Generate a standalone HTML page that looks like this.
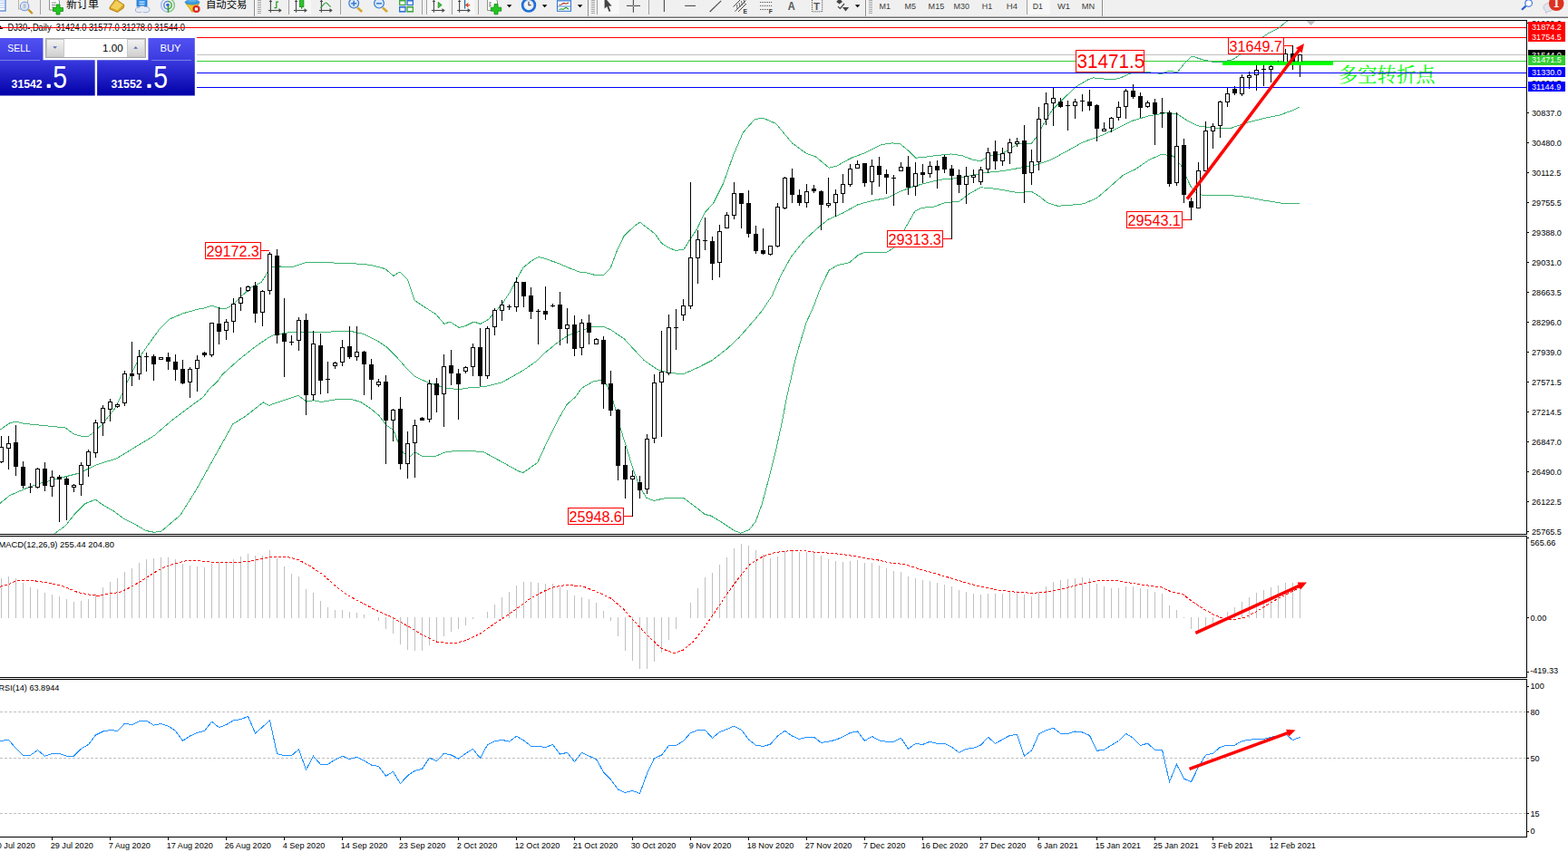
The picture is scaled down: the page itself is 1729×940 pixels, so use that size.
<!DOCTYPE html>
<html><head><meta charset="utf-8"><title>DJ30 Daily</title>
<style>html,body{margin:0;padding:0;background:#fff;overflow:hidden}svg{display:block}text{font-family:"Liberation Sans",sans-serif}</style>
</head><body>
<svg width="1729" height="940" viewBox="0 0 1729 940" font-family="'Liberation Sans', sans-serif">
<rect x="0" y="0" width="1729" height="940" fill="#fff"/>
<g shape-rendering="crispEdges">
</g>
<text x="8.5" y="34" font-size="10.1" fill="#000" textLength="195.5" lengthAdjust="spacingAndGlyphs">DJ30-,Daily&#160; 31424.0 31577.0 31278.0 31544.0</text>
<polygon points="0,28 3.5,32 0,32" fill="#000"/>
<g shape-rendering="crispEdges">
<text transform="translate(1689,28.9) scale(0.94,1)" font-size="9.7" fill="#000" text-anchor="start" font-weight="normal">31929.0</text>
<text transform="translate(1689,64.2) scale(0.94,1)" font-size="9.7" fill="#000" text-anchor="start" font-weight="normal">31544.0</text>
<text transform="translate(1689,94.9) scale(0.94,1)" font-size="9.7" fill="#000" text-anchor="start" font-weight="normal">31204.5</text>
<rect x="0" y="30" width="1683" height="1" fill="#ff0000"/>
<rect x="0" y="41" width="1683" height="1" fill="#ff0000"/>
<rect x="0" y="60" width="1683" height="1" fill="#c0c0c0"/>
<rect x="0" y="67" width="1683" height="1" fill="#32cd32"/>
<polyline points="0.0,474.2 10.8,466.7 17.4,465.2 27.0,467.4 72.3,472.0 81.4,478.8 90.4,481.5 97.6,481.1 103.0,477.5 113.4,467.4 126.6,450.7 135.6,432.7 139.8,422.7 154.2,393.8 161.5,383.0 176.0,363.0 186.8,352.2 201.3,345.9 217.5,341.4 226.6,339.6 233.5,337.2 242.9,340.1 250.1,340.1 257.3,336.0 268.2,325.1 277.2,317.0 288.1,311.5 293.5,303.4 297.1,294.4 308.0,294.0 323.5,294.1 336.2,289.9 354.2,289.0 372.3,290.3 390.4,290.8 408.5,292.3 424.8,296.6 433.8,304.4 441.0,299.9 449.2,308.0 457.3,331.5 462.7,335.2 480.8,346.9 489.9,357.4 496.2,355.0 506.1,361.4 513.4,359.6 522.4,355.0 529.7,357.4 538.7,352.3 553.2,336.1 562.2,322.5 576.7,295.4 585.7,288.1 593.9,283.3 600.0,285.1 614.4,290.0 627.0,295.4 640.0,300.4 645.6,300.6 656.7,303.6 665.5,303.6 673.3,295.5 680.7,275.6 688.1,260.3 699.3,249.6 705.7,245.2 716.9,253.8 722.4,258.4 729.8,268.6 737.2,273.2 744.6,276.3 753.9,275.4 761.3,263.5 768.7,252.4 777.0,234.8 786.8,224.0 797.6,202.3 808.5,171.6 819.3,146.3 832.0,131.8 841.0,130.0 855.5,136.3 873.6,158.0 889.9,169.8 898.9,172.5 914.3,185.2 922.4,183.3 938.7,174.3 953.2,168.9 971.2,159.8 983.5,157.9 992.5,158.8 1001.6,166.1 1009.7,174.2 1019.7,173.3 1032.3,171.5 1048.6,170.0 1061.3,171.8 1072.1,176.0 1081.2,177.8 1090.2,172.4 1104.7,169.7 1113.7,164.2 1122.7,158.5 1137.2,158.5 1142.6,151.6 1151.7,135.3 1160.7,120.8 1172.5,108.9 1187.0,95.4 1200.0,87.7 1205.6,85.9 1213.9,86.8 1227.8,87.7 1234.3,86.4 1241.7,83.1 1248.1,80.5 1262.0,79.0 1278.7,81.3 1281.5,81.3 1288.9,78.0 1295.4,79.4 1298.1,79.9 1307.4,68.3 1313.9,62.0 1316.7,62.7 1325.0,65.5 1337.0,68.3 1348.1,68.1 1359.5,65.7 1367.4,60.3 1380.0,50.0 1392.9,40.6 1398.8,36.7 1408.7,31.8 1413.6,27.9 1419.5,22.9" fill="none" stroke="#3cb371" stroke-width="1"/>
<polyline points="0.0,555.3 10.8,546.6 25.3,540.3 41.6,533.9 72.3,525.8 86.8,522.2 106.7,512.6 128.4,505.9 144.7,496.0 170.0,480.6 189.9,463.4 208.0,449.8 224.2,438.1 230.2,430.0 240.5,420.0 244.7,413.7 262.7,397.4 280.8,383.0 295.3,373.0 302.5,369.4 317.0,367.0 336.2,366.4 354.2,366.8 372.3,365.5 385.0,365.0 401.3,368.6 415.7,375.8 426.6,383.1 437.4,393.9 450.1,408.4 457.3,415.3 471.8,422.0 480.8,424.7 489.9,427.9 506.1,429.7 517.0,427.9 535.1,426.5 553.2,422.0 571.2,412.0 580.0,406.6 592.7,397.6 601.7,388.6 616.2,376.8 627.0,369.6 639.7,365.0 652.3,360.9 665.0,360.2 674.0,364.1 688.5,374.1 699.3,385.8 710.2,397.6 724.7,407.5 737.3,411.5 753.6,412.6 769.9,405.4 784.3,398.1 800.6,385.8 815.1,372.3 833.2,351.5 840.0,343.3 851.1,326.7 860.7,304.6 872.5,283.1 888.1,263.8 904.3,249.3 913.4,242.1 929.7,234.9 945.9,225.8 962.2,221.3 978.1,218.5 992.5,211.3 1007.0,205.8 1023.3,201.3 1037.8,198.1 1054.0,196.8 1068.5,194.1 1086.6,190.5 1104.7,188.7 1126.4,185.0 1140.8,182.3 1158.1,176.7 1176.2,166.8 1194.2,156.9 1212.3,150.5 1230.4,142.4 1248.5,133.3 1266.6,127.9 1284.7,124.8 1297.3,125.2 1308.2,132.4 1320.8,138.8 1338.9,141.5 1357.0,141.5 1375.1,135.2 1393.2,130.6 1411.2,127.0 1425.7,121.6 1432.9,118.0" fill="none" stroke="#3cb371" stroke-width="1"/>
<polyline points="59.7,589.0 72.3,580.0 81.4,568.3 94.0,555.6 105.4,551.1 113.9,557.4 126.6,564.7 137.4,572.8 150.0,579.1 160.9,585.5 170.0,587.3 178.1,586.0 198.9,568.3 217.0,539.3 235.1,506.8 256.8,467.9 271.2,458.9 290.2,443.9 296.6,447.5 300.0,445.9 328.9,436.3 338.0,443.1 345.2,441.7 354.2,443.5 372.3,440.4 386.8,440.3 397.6,443.5 408.5,450.7 417.5,458.0 426.6,469.7 433.8,474.2 439.2,488.7 444.7,499.6 451.9,504.1 457.3,498.7 465.5,503.2 480.8,503.2 489.9,499.2 502.5,497.4 517.0,497.4 533.3,498.7 553.2,509.5 571.2,519.5 576.7,521.6 580.0,519.5 592.7,510.4 603.5,486.9 616.2,461.6 625.2,446.2 634.2,438.3 641.5,428.2 654.1,420.9 665.0,419.0 668.6,423.6 675.8,441.0 683.1,468.8 690.3,492.3 697.5,515.8 704.8,535.7 712.9,549.3 721.0,552.4 735.5,549.3 753.6,549.3 768.1,560.1 777.1,567.4 784.3,569.2 797.0,577.0 809.7,585.5 816.9,588.2 825.9,584.6 833.2,575.5 840.4,555.6 847.6,528.5 854.9,499.6 862.1,467.0 867.5,438.3 872.9,414.8 876.2,400.0 881.5,380.7 889.1,355.8 896.7,339.2 905.0,317.0 914.0,298.4 923.0,292.8 936.8,289.6 946.5,281.3 952.7,278.6 977.6,278.3 985.9,273.5 998.0,252.0 1008.8,233.0 1016.1,229.3 1028.7,228.4 1041.4,223.9 1057.6,222.1 1068.5,214.0 1081.2,206.7 1097.4,208.2 1110.1,210.4 1122.7,212.7 1137.2,211.3 1146.3,216.7 1155.3,223.9 1166.1,227.2 1177.0,226.6 1195.1,224.8 1209.5,218.5 1222.2,207.6 1238.5,193.2 1252.1,186.7 1266.6,176.7 1281.0,170.1 1293.7,172.2 1302.7,183.1 1308.2,195.7 1313.6,206.6 1319.0,212.9 1326.3,215.3 1357.0,215.6 1375.1,217.4 1393.2,221.0 1416.7,224.7 1432.9,224.3" fill="none" stroke="#3cb371" stroke-width="1"/>
<rect x="1" y="481" width="1" height="30" fill="#000"/>
<rect x="-1" y="493" width="5" height="17" fill="#000"/>
<rect x="0" y="494" width="3" height="15" fill="#fff"/>
<rect x="9" y="481" width="1" height="37" fill="#000"/>
<rect x="7" y="489" width="5" height="6" fill="#000"/>
<rect x="8" y="490" width="3" height="4" fill="#fff"/>
<rect x="17" y="469" width="1" height="56" fill="#000"/>
<rect x="15" y="488" width="5" height="27" fill="#000"/>
<rect x="25" y="509" width="1" height="30" fill="#000"/>
<rect x="23" y="515" width="5" height="21" fill="#000"/>
<rect x="33" y="533" width="1" height="11" fill="#000"/>
<rect x="31" y="537" width="5" height="1" fill="#000"/>
<rect x="41" y="516" width="1" height="23" fill="#000"/>
<rect x="39" y="517" width="5" height="21" fill="#000"/>
<rect x="40" y="518" width="3" height="19" fill="#fff"/>
<rect x="49" y="510" width="1" height="32" fill="#000"/>
<rect x="47" y="517" width="5" height="19" fill="#000"/>
<rect x="57" y="519" width="1" height="29" fill="#000"/>
<rect x="55" y="526" width="5" height="11" fill="#000"/>
<rect x="56" y="527" width="3" height="9" fill="#fff"/>
<rect x="65" y="524" width="1" height="52" fill="#000"/>
<rect x="63" y="526" width="5" height="3" fill="#000"/>
<rect x="73" y="526" width="1" height="48" fill="#000"/>
<rect x="71" y="528" width="5" height="7" fill="#000"/>
<rect x="81" y="534" width="1" height="9" fill="#000"/>
<rect x="79" y="535" width="5" height="3" fill="#000"/>
<rect x="80" y="536" width="3" height="1" fill="#fff"/>
<rect x="89" y="510" width="1" height="37" fill="#000"/>
<rect x="87" y="513" width="5" height="22" fill="#000"/>
<rect x="88" y="514" width="3" height="20" fill="#fff"/>
<rect x="97" y="496" width="1" height="30" fill="#000"/>
<rect x="95" y="498" width="5" height="16" fill="#000"/>
<rect x="96" y="499" width="3" height="14" fill="#fff"/>
<rect x="105" y="463" width="1" height="42" fill="#000"/>
<rect x="103" y="466" width="5" height="34" fill="#000"/>
<rect x="104" y="467" width="3" height="32" fill="#fff"/>
<rect x="113" y="447" width="1" height="34" fill="#000"/>
<rect x="111" y="450" width="5" height="17" fill="#000"/>
<rect x="112" y="451" width="3" height="15" fill="#fff"/>
<rect x="121" y="440" width="1" height="25" fill="#000"/>
<rect x="119" y="443" width="5" height="9" fill="#000"/>
<rect x="120" y="444" width="3" height="7" fill="#fff"/>
<rect x="129" y="445" width="1" height="5" fill="#000"/>
<rect x="127" y="446" width="5" height="3" fill="#000"/>
<rect x="128" y="447" width="3" height="1" fill="#fff"/>
<rect x="137" y="409" width="1" height="39" fill="#000"/>
<rect x="135" y="412" width="5" height="33" fill="#000"/>
<rect x="136" y="413" width="3" height="31" fill="#fff"/>
<rect x="145" y="377" width="1" height="49" fill="#000"/>
<rect x="143" y="412" width="5" height="3" fill="#000"/>
<rect x="153" y="386" width="1" height="33" fill="#000"/>
<rect x="151" y="393" width="5" height="20" fill="#000"/>
<rect x="152" y="394" width="3" height="18" fill="#fff"/>
<rect x="161" y="389" width="1" height="21" fill="#000"/>
<rect x="159" y="393" width="5" height="1" fill="#000"/>
<rect x="169" y="391" width="1" height="29" fill="#000"/>
<rect x="167" y="393" width="5" height="9" fill="#000"/>
<rect x="177" y="394" width="1" height="3" fill="#000"/>
<rect x="175" y="394" width="5" height="3" fill="#000"/>
<rect x="176" y="395" width="3" height="1" fill="#fff"/>
<rect x="185" y="389" width="1" height="19" fill="#000"/>
<rect x="183" y="394" width="5" height="5" fill="#000"/>
<rect x="193" y="391" width="1" height="29" fill="#000"/>
<rect x="191" y="399" width="5" height="9" fill="#000"/>
<rect x="201" y="397" width="1" height="27" fill="#000"/>
<rect x="199" y="407" width="5" height="16" fill="#000"/>
<rect x="209" y="405" width="1" height="34" fill="#000"/>
<rect x="207" y="407" width="5" height="15" fill="#000"/>
<rect x="208" y="408" width="3" height="13" fill="#fff"/>
<rect x="217" y="392" width="1" height="40" fill="#000"/>
<rect x="215" y="397" width="5" height="10" fill="#000"/>
<rect x="216" y="398" width="3" height="8" fill="#fff"/>
<rect x="225" y="388" width="1" height="6" fill="#000"/>
<rect x="223" y="389" width="5" height="3" fill="#000"/>
<rect x="233" y="356" width="1" height="38" fill="#000"/>
<rect x="231" y="356" width="5" height="36" fill="#000"/>
<rect x="232" y="357" width="3" height="34" fill="#fff"/>
<rect x="241" y="339" width="1" height="41" fill="#000"/>
<rect x="239" y="357" width="5" height="9" fill="#000"/>
<rect x="249" y="352" width="1" height="23" fill="#000"/>
<rect x="247" y="355" width="5" height="10" fill="#000"/>
<rect x="248" y="356" width="3" height="8" fill="#fff"/>
<rect x="257" y="329" width="1" height="38" fill="#000"/>
<rect x="255" y="335" width="5" height="20" fill="#000"/>
<rect x="256" y="336" width="3" height="18" fill="#fff"/>
<rect x="265" y="317" width="1" height="26" fill="#000"/>
<rect x="263" y="328" width="5" height="7" fill="#000"/>
<rect x="264" y="329" width="3" height="5" fill="#fff"/>
<rect x="273" y="315" width="1" height="7" fill="#000"/>
<rect x="271" y="316" width="5" height="5" fill="#000"/>
<rect x="272" y="317" width="3" height="3" fill="#fff"/>
<rect x="281" y="311" width="1" height="45" fill="#000"/>
<rect x="279" y="315" width="5" height="31" fill="#000"/>
<rect x="289" y="320" width="1" height="40" fill="#000"/>
<rect x="287" y="321" width="5" height="24" fill="#000"/>
<rect x="288" y="322" width="3" height="22" fill="#fff"/>
<rect x="297" y="278" width="1" height="47" fill="#000"/>
<rect x="295" y="280" width="5" height="41" fill="#000"/>
<rect x="296" y="281" width="3" height="39" fill="#fff"/>
<rect x="305" y="275" width="1" height="104" fill="#000"/>
<rect x="303" y="282" width="5" height="88" fill="#000"/>
<rect x="313" y="329" width="1" height="87" fill="#000"/>
<rect x="311" y="368" width="5" height="9" fill="#000"/>
<rect x="321" y="370" width="1" height="11" fill="#000"/>
<rect x="319" y="377" width="5" height="1" fill="#000"/>
<rect x="329" y="350" width="1" height="37" fill="#000"/>
<rect x="327" y="353" width="5" height="23" fill="#000"/>
<rect x="328" y="354" width="3" height="21" fill="#fff"/>
<rect x="337" y="346" width="1" height="112" fill="#000"/>
<rect x="335" y="353" width="5" height="83" fill="#000"/>
<rect x="345" y="365" width="1" height="77" fill="#000"/>
<rect x="343" y="379" width="5" height="57" fill="#000"/>
<rect x="344" y="380" width="3" height="55" fill="#fff"/>
<rect x="353" y="368" width="1" height="67" fill="#000"/>
<rect x="351" y="381" width="5" height="39" fill="#000"/>
<rect x="361" y="399" width="1" height="35" fill="#000"/>
<rect x="359" y="418" width="5" height="1" fill="#000"/>
<rect x="369" y="399" width="1" height="8" fill="#000"/>
<rect x="367" y="400" width="5" height="4" fill="#000"/>
<rect x="368" y="401" width="3" height="2" fill="#fff"/>
<rect x="377" y="375" width="1" height="29" fill="#000"/>
<rect x="375" y="383" width="5" height="17" fill="#000"/>
<rect x="376" y="384" width="3" height="15" fill="#fff"/>
<rect x="385" y="360" width="1" height="36" fill="#000"/>
<rect x="383" y="382" width="5" height="12" fill="#000"/>
<rect x="393" y="360" width="1" height="38" fill="#000"/>
<rect x="391" y="388" width="5" height="6" fill="#000"/>
<rect x="392" y="389" width="3" height="4" fill="#fff"/>
<rect x="401" y="387" width="1" height="49" fill="#000"/>
<rect x="399" y="388" width="5" height="14" fill="#000"/>
<rect x="409" y="396" width="1" height="45" fill="#000"/>
<rect x="407" y="402" width="5" height="17" fill="#000"/>
<rect x="417" y="418" width="1" height="9" fill="#000"/>
<rect x="415" y="421" width="5" height="4" fill="#000"/>
<rect x="416" y="422" width="3" height="2" fill="#fff"/>
<rect x="425" y="414" width="1" height="98" fill="#000"/>
<rect x="423" y="421" width="5" height="43" fill="#000"/>
<rect x="433" y="451" width="1" height="36" fill="#000"/>
<rect x="431" y="452" width="5" height="12" fill="#000"/>
<rect x="432" y="453" width="3" height="10" fill="#fff"/>
<rect x="441" y="438" width="1" height="80" fill="#000"/>
<rect x="439" y="451" width="5" height="61" fill="#000"/>
<rect x="449" y="476" width="1" height="52" fill="#000"/>
<rect x="447" y="489" width="5" height="23" fill="#000"/>
<rect x="448" y="490" width="3" height="21" fill="#fff"/>
<rect x="457" y="463" width="1" height="64" fill="#000"/>
<rect x="455" y="469" width="5" height="20" fill="#000"/>
<rect x="456" y="470" width="3" height="18" fill="#fff"/>
<rect x="465" y="460" width="1" height="4" fill="#000"/>
<rect x="463" y="461" width="5" height="3" fill="#000"/>
<rect x="473" y="419" width="1" height="47" fill="#000"/>
<rect x="471" y="423" width="5" height="40" fill="#000"/>
<rect x="472" y="424" width="3" height="38" fill="#fff"/>
<rect x="481" y="417" width="1" height="38" fill="#000"/>
<rect x="479" y="423" width="5" height="13" fill="#000"/>
<rect x="489" y="391" width="1" height="80" fill="#000"/>
<rect x="487" y="404" width="5" height="31" fill="#000"/>
<rect x="488" y="405" width="3" height="29" fill="#fff"/>
<rect x="497" y="386" width="1" height="39" fill="#000"/>
<rect x="495" y="403" width="5" height="9" fill="#000"/>
<rect x="505" y="407" width="1" height="56" fill="#000"/>
<rect x="503" y="412" width="5" height="12" fill="#000"/>
<rect x="513" y="404" width="1" height="8" fill="#000"/>
<rect x="511" y="405" width="5" height="5" fill="#000"/>
<rect x="512" y="406" width="3" height="3" fill="#fff"/>
<rect x="521" y="379" width="1" height="36" fill="#000"/>
<rect x="519" y="383" width="5" height="22" fill="#000"/>
<rect x="520" y="384" width="3" height="20" fill="#fff"/>
<rect x="529" y="362" width="1" height="64" fill="#000"/>
<rect x="527" y="383" width="5" height="32" fill="#000"/>
<rect x="537" y="360" width="1" height="58" fill="#000"/>
<rect x="535" y="362" width="5" height="53" fill="#000"/>
<rect x="536" y="363" width="3" height="51" fill="#fff"/>
<rect x="545" y="340" width="1" height="30" fill="#000"/>
<rect x="543" y="342" width="5" height="19" fill="#000"/>
<rect x="544" y="343" width="3" height="17" fill="#fff"/>
<rect x="553" y="331" width="1" height="23" fill="#000"/>
<rect x="551" y="336" width="5" height="7" fill="#000"/>
<rect x="552" y="337" width="3" height="5" fill="#fff"/>
<rect x="561" y="336" width="1" height="6" fill="#000"/>
<rect x="559" y="338" width="5" height="1" fill="#000"/>
<rect x="569" y="306" width="1" height="38" fill="#000"/>
<rect x="567" y="311" width="5" height="28" fill="#000"/>
<rect x="568" y="312" width="3" height="26" fill="#fff"/>
<rect x="577" y="311" width="1" height="28" fill="#000"/>
<rect x="575" y="311" width="5" height="16" fill="#000"/>
<rect x="585" y="317" width="1" height="35" fill="#000"/>
<rect x="583" y="326" width="5" height="18" fill="#000"/>
<rect x="593" y="341" width="1" height="39" fill="#000"/>
<rect x="591" y="343" width="5" height="1" fill="#000"/>
<rect x="601" y="316" width="1" height="37" fill="#000"/>
<rect x="599" y="343" width="5" height="4" fill="#000"/>
<rect x="609" y="335" width="1" height="4" fill="#000"/>
<rect x="607" y="337" width="5" height="1" fill="#000"/>
<rect x="617" y="322" width="1" height="59" fill="#000"/>
<rect x="615" y="336" width="5" height="27" fill="#000"/>
<rect x="625" y="340" width="1" height="39" fill="#000"/>
<rect x="623" y="358" width="5" height="5" fill="#000"/>
<rect x="624" y="359" width="3" height="3" fill="#fff"/>
<rect x="633" y="348" width="1" height="45" fill="#000"/>
<rect x="631" y="358" width="5" height="27" fill="#000"/>
<rect x="641" y="352" width="1" height="40" fill="#000"/>
<rect x="639" y="356" width="5" height="28" fill="#000"/>
<rect x="640" y="357" width="3" height="26" fill="#fff"/>
<rect x="649" y="347" width="1" height="33" fill="#000"/>
<rect x="647" y="356" width="5" height="11" fill="#000"/>
<rect x="657" y="373" width="1" height="7" fill="#000"/>
<rect x="655" y="374" width="5" height="6" fill="#000"/>
<rect x="656" y="375" width="3" height="4" fill="#fff"/>
<rect x="665" y="371" width="1" height="80" fill="#000"/>
<rect x="663" y="375" width="5" height="49" fill="#000"/>
<rect x="673" y="409" width="1" height="50" fill="#000"/>
<rect x="671" y="423" width="5" height="30" fill="#000"/>
<rect x="681" y="451" width="1" height="79" fill="#000"/>
<rect x="679" y="452" width="5" height="62" fill="#000"/>
<rect x="689" y="492" width="1" height="58" fill="#000"/>
<rect x="687" y="513" width="5" height="16" fill="#000"/>
<rect x="697" y="519" width="1" height="51" fill="#000"/>
<rect x="695" y="525" width="5" height="4" fill="#000"/>
<rect x="696" y="526" width="3" height="2" fill="#fff"/>
<rect x="705" y="525" width="1" height="25" fill="#000"/>
<rect x="703" y="532" width="5" height="9" fill="#000"/>
<rect x="713" y="479" width="1" height="66" fill="#000"/>
<rect x="711" y="484" width="5" height="56" fill="#000"/>
<rect x="712" y="485" width="3" height="54" fill="#fff"/>
<rect x="721" y="413" width="1" height="76" fill="#000"/>
<rect x="719" y="422" width="5" height="62" fill="#000"/>
<rect x="720" y="423" width="3" height="60" fill="#fff"/>
<rect x="729" y="365" width="1" height="117" fill="#000"/>
<rect x="727" y="410" width="5" height="12" fill="#000"/>
<rect x="728" y="411" width="3" height="10" fill="#fff"/>
<rect x="737" y="347" width="1" height="67" fill="#000"/>
<rect x="735" y="361" width="5" height="51" fill="#000"/>
<rect x="736" y="362" width="3" height="49" fill="#fff"/>
<rect x="745" y="341" width="1" height="45" fill="#000"/>
<rect x="743" y="361" width="5" height="1" fill="#000"/>
<rect x="753" y="330" width="1" height="24" fill="#000"/>
<rect x="751" y="337" width="5" height="11" fill="#000"/>
<rect x="752" y="338" width="3" height="9" fill="#fff"/>
<rect x="761" y="201" width="1" height="140" fill="#000"/>
<rect x="759" y="284" width="5" height="54" fill="#000"/>
<rect x="760" y="285" width="3" height="52" fill="#fff"/>
<rect x="769" y="254" width="1" height="59" fill="#000"/>
<rect x="767" y="264" width="5" height="21" fill="#000"/>
<rect x="768" y="265" width="3" height="19" fill="#fff"/>
<rect x="777" y="240" width="1" height="36" fill="#000"/>
<rect x="775" y="265" width="5" height="1" fill="#000"/>
<rect x="785" y="261" width="1" height="48" fill="#000"/>
<rect x="783" y="266" width="5" height="25" fill="#000"/>
<rect x="793" y="248" width="1" height="58" fill="#000"/>
<rect x="791" y="255" width="5" height="35" fill="#000"/>
<rect x="792" y="256" width="3" height="33" fill="#fff"/>
<rect x="801" y="234" width="1" height="18" fill="#000"/>
<rect x="799" y="237" width="5" height="15" fill="#000"/>
<rect x="800" y="238" width="3" height="13" fill="#fff"/>
<rect x="809" y="201" width="1" height="41" fill="#000"/>
<rect x="807" y="213" width="5" height="25" fill="#000"/>
<rect x="808" y="214" width="3" height="23" fill="#fff"/>
<rect x="817" y="213" width="1" height="39" fill="#000"/>
<rect x="815" y="213" width="5" height="12" fill="#000"/>
<rect x="825" y="210" width="1" height="52" fill="#000"/>
<rect x="823" y="224" width="5" height="34" fill="#000"/>
<rect x="833" y="249" width="1" height="31" fill="#000"/>
<rect x="831" y="258" width="5" height="19" fill="#000"/>
<rect x="841" y="252" width="1" height="29" fill="#000"/>
<rect x="839" y="276" width="5" height="4" fill="#000"/>
<rect x="849" y="271" width="1" height="11" fill="#000"/>
<rect x="847" y="271" width="5" height="10" fill="#000"/>
<rect x="848" y="272" width="3" height="8" fill="#fff"/>
<rect x="857" y="224" width="1" height="49" fill="#000"/>
<rect x="855" y="228" width="5" height="44" fill="#000"/>
<rect x="856" y="229" width="3" height="42" fill="#fff"/>
<rect x="865" y="195" width="1" height="36" fill="#000"/>
<rect x="863" y="196" width="5" height="34" fill="#000"/>
<rect x="864" y="197" width="3" height="32" fill="#fff"/>
<rect x="873" y="186" width="1" height="38" fill="#000"/>
<rect x="871" y="196" width="5" height="19" fill="#000"/>
<rect x="881" y="209" width="1" height="18" fill="#000"/>
<rect x="879" y="215" width="5" height="9" fill="#000"/>
<rect x="889" y="203" width="1" height="26" fill="#000"/>
<rect x="887" y="211" width="5" height="13" fill="#000"/>
<rect x="888" y="212" width="3" height="11" fill="#fff"/>
<rect x="897" y="204" width="1" height="9" fill="#000"/>
<rect x="895" y="208" width="5" height="3" fill="#000"/>
<rect x="905" y="210" width="1" height="44" fill="#000"/>
<rect x="903" y="211" width="5" height="15" fill="#000"/>
<rect x="913" y="196" width="1" height="33" fill="#000"/>
<rect x="911" y="224" width="5" height="3" fill="#000"/>
<rect x="912" y="225" width="3" height="1" fill="#fff"/>
<rect x="921" y="209" width="1" height="30" fill="#000"/>
<rect x="919" y="214" width="5" height="10" fill="#000"/>
<rect x="920" y="215" width="3" height="8" fill="#fff"/>
<rect x="929" y="192" width="1" height="32" fill="#000"/>
<rect x="927" y="203" width="5" height="11" fill="#000"/>
<rect x="928" y="204" width="3" height="9" fill="#fff"/>
<rect x="937" y="181" width="1" height="25" fill="#000"/>
<rect x="935" y="186" width="5" height="18" fill="#000"/>
<rect x="936" y="187" width="3" height="16" fill="#fff"/>
<rect x="945" y="177" width="1" height="9" fill="#000"/>
<rect x="943" y="181" width="5" height="5" fill="#000"/>
<rect x="944" y="182" width="3" height="3" fill="#fff"/>
<rect x="953" y="180" width="1" height="26" fill="#000"/>
<rect x="951" y="180" width="5" height="22" fill="#000"/>
<rect x="961" y="176" width="1" height="39" fill="#000"/>
<rect x="959" y="183" width="5" height="18" fill="#000"/>
<rect x="960" y="184" width="3" height="16" fill="#fff"/>
<rect x="969" y="173" width="1" height="33" fill="#000"/>
<rect x="967" y="183" width="5" height="10" fill="#000"/>
<rect x="977" y="187" width="1" height="27" fill="#000"/>
<rect x="975" y="192" width="5" height="4" fill="#000"/>
<rect x="985" y="193" width="1" height="34" fill="#000"/>
<rect x="983" y="196" width="5" height="1" fill="#000"/>
<rect x="993" y="179" width="1" height="10" fill="#000"/>
<rect x="991" y="184" width="5" height="5" fill="#000"/>
<rect x="992" y="185" width="3" height="3" fill="#fff"/>
<rect x="1001" y="172" width="1" height="43" fill="#000"/>
<rect x="999" y="184" width="5" height="23" fill="#000"/>
<rect x="1009" y="179" width="1" height="37" fill="#000"/>
<rect x="1007" y="191" width="5" height="15" fill="#000"/>
<rect x="1008" y="192" width="3" height="13" fill="#fff"/>
<rect x="1017" y="181" width="1" height="21" fill="#000"/>
<rect x="1015" y="190" width="5" height="3" fill="#000"/>
<rect x="1025" y="178" width="1" height="18" fill="#000"/>
<rect x="1023" y="183" width="5" height="9" fill="#000"/>
<rect x="1024" y="184" width="3" height="7" fill="#fff"/>
<rect x="1033" y="177" width="1" height="31" fill="#000"/>
<rect x="1031" y="183" width="5" height="5" fill="#000"/>
<rect x="1041" y="171" width="1" height="20" fill="#000"/>
<rect x="1039" y="173" width="5" height="14" fill="#000"/>
<rect x="1049" y="182" width="1" height="82" fill="#000"/>
<rect x="1047" y="186" width="5" height="8" fill="#000"/>
<rect x="1057" y="187" width="1" height="26" fill="#000"/>
<rect x="1055" y="193" width="5" height="11" fill="#000"/>
<rect x="1065" y="184" width="1" height="41" fill="#000"/>
<rect x="1063" y="194" width="5" height="10" fill="#000"/>
<rect x="1064" y="195" width="3" height="8" fill="#fff"/>
<rect x="1073" y="187" width="1" height="15" fill="#000"/>
<rect x="1071" y="193" width="5" height="3" fill="#000"/>
<rect x="1072" y="194" width="3" height="1" fill="#fff"/>
<rect x="1081" y="184" width="1" height="20" fill="#000"/>
<rect x="1079" y="187" width="5" height="14" fill="#000"/>
<rect x="1080" y="188" width="3" height="12" fill="#fff"/>
<rect x="1089" y="163" width="1" height="28" fill="#000"/>
<rect x="1087" y="168" width="5" height="19" fill="#000"/>
<rect x="1088" y="169" width="3" height="17" fill="#fff"/>
<rect x="1097" y="155" width="1" height="32" fill="#000"/>
<rect x="1095" y="167" width="5" height="11" fill="#000"/>
<rect x="1105" y="163" width="1" height="20" fill="#000"/>
<rect x="1103" y="169" width="5" height="9" fill="#000"/>
<rect x="1104" y="170" width="3" height="7" fill="#fff"/>
<rect x="1113" y="153" width="1" height="28" fill="#000"/>
<rect x="1111" y="157" width="5" height="12" fill="#000"/>
<rect x="1112" y="158" width="3" height="10" fill="#fff"/>
<rect x="1121" y="152" width="1" height="10" fill="#000"/>
<rect x="1119" y="156" width="5" height="3" fill="#000"/>
<rect x="1120" y="157" width="3" height="1" fill="#fff"/>
<rect x="1129" y="138" width="1" height="86" fill="#000"/>
<rect x="1127" y="155" width="5" height="37" fill="#000"/>
<rect x="1137" y="165" width="1" height="39" fill="#000"/>
<rect x="1135" y="178" width="5" height="13" fill="#000"/>
<rect x="1136" y="179" width="3" height="11" fill="#fff"/>
<rect x="1145" y="118" width="1" height="70" fill="#000"/>
<rect x="1143" y="131" width="5" height="48" fill="#000"/>
<rect x="1144" y="132" width="3" height="46" fill="#fff"/>
<rect x="1153" y="102" width="1" height="36" fill="#000"/>
<rect x="1151" y="114" width="5" height="18" fill="#000"/>
<rect x="1152" y="115" width="3" height="16" fill="#fff"/>
<rect x="1161" y="96" width="1" height="43" fill="#000"/>
<rect x="1159" y="108" width="5" height="6" fill="#000"/>
<rect x="1160" y="109" width="3" height="4" fill="#fff"/>
<rect x="1169" y="108" width="1" height="11" fill="#000"/>
<rect x="1167" y="112" width="5" height="6" fill="#000"/>
<rect x="1177" y="111" width="1" height="33" fill="#000"/>
<rect x="1175" y="116" width="5" height="1" fill="#000"/>
<rect x="1185" y="109" width="1" height="22" fill="#000"/>
<rect x="1183" y="112" width="5" height="5" fill="#000"/>
<rect x="1184" y="113" width="3" height="3" fill="#fff"/>
<rect x="1193" y="104" width="1" height="19" fill="#000"/>
<rect x="1191" y="111" width="5" height="1" fill="#000"/>
<rect x="1201" y="99" width="1" height="23" fill="#000"/>
<rect x="1199" y="112" width="5" height="5" fill="#000"/>
<rect x="1209" y="115" width="1" height="41" fill="#000"/>
<rect x="1207" y="116" width="5" height="26" fill="#000"/>
<rect x="1217" y="135" width="1" height="10" fill="#000"/>
<rect x="1215" y="142" width="5" height="3" fill="#000"/>
<rect x="1216" y="143" width="3" height="1" fill="#fff"/>
<rect x="1225" y="129" width="1" height="17" fill="#000"/>
<rect x="1223" y="130" width="5" height="12" fill="#000"/>
<rect x="1224" y="131" width="3" height="10" fill="#fff"/>
<rect x="1233" y="112" width="1" height="21" fill="#000"/>
<rect x="1231" y="118" width="5" height="12" fill="#000"/>
<rect x="1232" y="119" width="3" height="10" fill="#fff"/>
<rect x="1241" y="98" width="1" height="33" fill="#000"/>
<rect x="1239" y="100" width="5" height="18" fill="#000"/>
<rect x="1240" y="101" width="3" height="16" fill="#fff"/>
<rect x="1249" y="93" width="1" height="16" fill="#000"/>
<rect x="1247" y="100" width="5" height="7" fill="#000"/>
<rect x="1257" y="102" width="1" height="28" fill="#000"/>
<rect x="1255" y="106" width="5" height="13" fill="#000"/>
<rect x="1265" y="111" width="1" height="8" fill="#000"/>
<rect x="1263" y="113" width="5" height="5" fill="#000"/>
<rect x="1264" y="114" width="3" height="3" fill="#fff"/>
<rect x="1273" y="109" width="1" height="51" fill="#000"/>
<rect x="1271" y="113" width="5" height="13" fill="#000"/>
<rect x="1281" y="108" width="1" height="33" fill="#000"/>
<rect x="1279" y="124" width="5" height="1" fill="#000"/>
<rect x="1289" y="122" width="1" height="84" fill="#000"/>
<rect x="1287" y="124" width="5" height="79" fill="#000"/>
<rect x="1297" y="124" width="1" height="81" fill="#000"/>
<rect x="1295" y="161" width="5" height="41" fill="#000"/>
<rect x="1296" y="162" width="3" height="39" fill="#fff"/>
<rect x="1305" y="153" width="1" height="71" fill="#000"/>
<rect x="1303" y="160" width="5" height="55" fill="#000"/>
<rect x="1313" y="218" width="1" height="25" fill="#000"/>
<rect x="1311" y="222" width="5" height="7" fill="#000"/>
<rect x="1321" y="179" width="1" height="51" fill="#000"/>
<rect x="1319" y="188" width="5" height="42" fill="#000"/>
<rect x="1320" y="189" width="3" height="40" fill="#fff"/>
<rect x="1329" y="134" width="1" height="55" fill="#000"/>
<rect x="1327" y="144" width="5" height="45" fill="#000"/>
<rect x="1328" y="145" width="3" height="43" fill="#fff"/>
<rect x="1337" y="136" width="1" height="28" fill="#000"/>
<rect x="1335" y="139" width="5" height="6" fill="#000"/>
<rect x="1336" y="140" width="3" height="4" fill="#fff"/>
<rect x="1345" y="111" width="1" height="41" fill="#000"/>
<rect x="1343" y="112" width="5" height="27" fill="#000"/>
<rect x="1344" y="113" width="3" height="25" fill="#fff"/>
<rect x="1353" y="96" width="1" height="22" fill="#000"/>
<rect x="1351" y="103" width="5" height="10" fill="#000"/>
<rect x="1352" y="104" width="3" height="8" fill="#fff"/>
<rect x="1361" y="95" width="1" height="10" fill="#000"/>
<rect x="1359" y="98" width="5" height="5" fill="#000"/>
<rect x="1369" y="82" width="1" height="24" fill="#000"/>
<rect x="1367" y="85" width="5" height="19" fill="#000"/>
<rect x="1368" y="86" width="3" height="17" fill="#fff"/>
<rect x="1377" y="79" width="1" height="19" fill="#000"/>
<rect x="1375" y="83" width="5" height="3" fill="#000"/>
<rect x="1376" y="84" width="3" height="1" fill="#fff"/>
<rect x="1385" y="72" width="1" height="28" fill="#000"/>
<rect x="1383" y="77" width="5" height="6" fill="#000"/>
<rect x="1384" y="78" width="3" height="4" fill="#fff"/>
<rect x="1393" y="72" width="1" height="23" fill="#000"/>
<rect x="1391" y="76" width="5" height="1" fill="#000"/>
<rect x="1401" y="72" width="1" height="19" fill="#000"/>
<rect x="1399" y="73" width="5" height="4" fill="#000"/>
<rect x="1400" y="74" width="3" height="2" fill="#fff"/>
<rect x="1409" y="67" width="1" height="5" fill="#000"/>
<rect x="1407" y="69" width="5" height="1" fill="#000"/>
<rect x="1417" y="54" width="1" height="18" fill="#000"/>
<rect x="1415" y="59" width="5" height="12" fill="#000"/>
<rect x="1416" y="60" width="3" height="10" fill="#fff"/>
<rect x="1425" y="50" width="1" height="27" fill="#000"/>
<rect x="1423" y="59" width="5" height="12" fill="#000"/>
<rect x="1433" y="60" width="1" height="25" fill="#000"/>
<rect x="1431" y="60" width="5" height="11" fill="#000"/>
<rect x="1432" y="61" width="3" height="9" fill="#fff"/>
<rect x="1348" y="68" width="122" height="4" fill="#00ff00"/>
</g>
<text x="1476" y="89.5" font-size="21.2" fill="#00ff00" textLength="106.5" lengthAdjust="spacingAndGlyphs" style="font-family:'Liberation Serif','Noto Serif CJK SC',serif">多空转折点</text>
<g shape-rendering="crispEdges">
<rect x="0" y="80" width="1683" height="1" fill="#0000ff"/>
<rect x="0" y="96" width="1683" height="1" fill="#0000ff"/>
</g>
<g shape-rendering="crispEdges">
<rect x="226.5" y="267.5" width="61" height="18" fill="#fff" stroke="#ff0000" stroke-width="1"/>
<polyline points="288.0,276.5 297.0,276.5" fill="none" stroke="#ff0000" stroke-width="1"/>
</g>
<text transform="translate(227.5,282.5) scale(0.985,1)" font-size="16.4" fill="#ff0000">29172.3</text>
<g shape-rendering="crispEdges">
<rect x="626.5" y="560.5" width="61" height="18" fill="#fff" stroke="#ff0000" stroke-width="1"/>
<polyline points="688.0,569.5 697.0,569.5" fill="none" stroke="#ff0000" stroke-width="1"/>
</g>
<text transform="translate(627.5,575.5) scale(0.985,1)" font-size="16.4" fill="#ff0000">25948.6</text>
<g shape-rendering="crispEdges">
<rect x="978.5" y="254.5" width="61" height="18" fill="#fff" stroke="#ff0000" stroke-width="1"/>
<polyline points="1040.0,263.5 1049.0,263.5" fill="none" stroke="#ff0000" stroke-width="1"/>
</g>
<text transform="translate(979.5,269.5) scale(0.985,1)" font-size="16.4" fill="#ff0000">29313.3</text>
<g shape-rendering="crispEdges">
<rect x="1242.5" y="233.5" width="61" height="18" fill="#fff" stroke="#ff0000" stroke-width="1"/>
<polyline points="1304.0,242.5 1313.0,242.5" fill="none" stroke="#ff0000" stroke-width="1"/>
</g>
<text transform="translate(1243.5,248.5) scale(0.985,1)" font-size="16.4" fill="#ff0000">29543.1</text>
<g shape-rendering="crispEdges">
<rect x="1354.5" y="41.5" width="61" height="18" fill="#fff" stroke="#ff0000" stroke-width="1"/>
<polyline points="1416.0,50.5 1425.0,50.5" fill="none" stroke="#ff0000" stroke-width="1"/>
</g>
<text transform="translate(1355.5,56.5) scale(0.985,1)" font-size="16.4" fill="#ff0000">31649.7</text>
<g shape-rendering="crispEdges">
<rect x="1186.5" y="55.5" width="75" height="24" fill="#fff" stroke="#ff0000" stroke-width="1"/>
</g>
<text transform="translate(1187.6,75.3) scale(0.965,1)" font-size="21.4" fill="#ff0000">31471.5</text>
<g shape-rendering="crispEdges">
<polygon points="1441,23 1450.5,23 1445.7,28" fill="#c0c0c0"/>
<rect x="1" y="638" width="1" height="44" fill="#c0c0c0"/>
<rect x="9" y="636" width="1" height="46" fill="#c0c0c0"/>
<rect x="17" y="638" width="1" height="44" fill="#c0c0c0"/>
<rect x="25" y="643" width="1" height="39" fill="#c0c0c0"/>
<rect x="33" y="648" width="1" height="34" fill="#c0c0c0"/>
<rect x="41" y="650" width="1" height="32" fill="#c0c0c0"/>
<rect x="49" y="654" width="1" height="28" fill="#c0c0c0"/>
<rect x="57" y="656" width="1" height="26" fill="#c0c0c0"/>
<rect x="65" y="658" width="1" height="24" fill="#c0c0c0"/>
<rect x="73" y="661" width="1" height="21" fill="#c0c0c0"/>
<rect x="81" y="664" width="1" height="18" fill="#c0c0c0"/>
<rect x="89" y="663" width="1" height="19" fill="#c0c0c0"/>
<rect x="97" y="661" width="1" height="21" fill="#c0c0c0"/>
<rect x="105" y="655" width="1" height="27" fill="#c0c0c0"/>
<rect x="113" y="648" width="1" height="34" fill="#c0c0c0"/>
<rect x="121" y="642" width="1" height="40" fill="#c0c0c0"/>
<rect x="129" y="638" width="1" height="44" fill="#c0c0c0"/>
<rect x="137" y="631" width="1" height="51" fill="#c0c0c0"/>
<rect x="145" y="627" width="1" height="55" fill="#c0c0c0"/>
<rect x="153" y="621" width="1" height="61" fill="#c0c0c0"/>
<rect x="161" y="617" width="1" height="65" fill="#c0c0c0"/>
<rect x="169" y="616" width="1" height="66" fill="#c0c0c0"/>
<rect x="177" y="615" width="1" height="67" fill="#c0c0c0"/>
<rect x="185" y="615" width="1" height="67" fill="#c0c0c0"/>
<rect x="193" y="617" width="1" height="65" fill="#c0c0c0"/>
<rect x="201" y="622" width="1" height="60" fill="#c0c0c0"/>
<rect x="209" y="624" width="1" height="58" fill="#c0c0c0"/>
<rect x="217" y="625" width="1" height="57" fill="#c0c0c0"/>
<rect x="225" y="626" width="1" height="56" fill="#c0c0c0"/>
<rect x="233" y="622" width="1" height="60" fill="#c0c0c0"/>
<rect x="241" y="620" width="1" height="62" fill="#c0c0c0"/>
<rect x="249" y="620" width="1" height="62" fill="#c0c0c0"/>
<rect x="257" y="617" width="1" height="65" fill="#c0c0c0"/>
<rect x="265" y="614" width="1" height="68" fill="#c0c0c0"/>
<rect x="273" y="611" width="1" height="71" fill="#c0c0c0"/>
<rect x="281" y="613" width="1" height="69" fill="#c0c0c0"/>
<rect x="289" y="613" width="1" height="69" fill="#c0c0c0"/>
<rect x="297" y="607" width="1" height="75" fill="#c0c0c0"/>
<rect x="305" y="616" width="1" height="66" fill="#c0c0c0"/>
<rect x="313" y="625" width="1" height="57" fill="#c0c0c0"/>
<rect x="321" y="633" width="1" height="49" fill="#c0c0c0"/>
<rect x="329" y="636" width="1" height="46" fill="#c0c0c0"/>
<rect x="337" y="650" width="1" height="32" fill="#c0c0c0"/>
<rect x="345" y="654" width="1" height="28" fill="#c0c0c0"/>
<rect x="353" y="663" width="1" height="19" fill="#c0c0c0"/>
<rect x="361" y="670" width="1" height="12" fill="#c0c0c0"/>
<rect x="369" y="673" width="1" height="9" fill="#c0c0c0"/>
<rect x="377" y="673" width="1" height="9" fill="#c0c0c0"/>
<rect x="385" y="675" width="1" height="7" fill="#c0c0c0"/>
<rect x="393" y="676" width="1" height="6" fill="#c0c0c0"/>
<rect x="401" y="678" width="1" height="4" fill="#c0c0c0"/>
<rect x="417" y="681" width="1" height="4" fill="#c0c0c0"/>
<rect x="425" y="681" width="1" height="13" fill="#c0c0c0"/>
<rect x="433" y="681" width="1" height="18" fill="#c0c0c0"/>
<rect x="441" y="681" width="1" height="30" fill="#c0c0c0"/>
<rect x="449" y="681" width="1" height="36" fill="#c0c0c0"/>
<rect x="457" y="681" width="1" height="37" fill="#c0c0c0"/>
<rect x="465" y="681" width="1" height="37" fill="#c0c0c0"/>
<rect x="473" y="681" width="1" height="31" fill="#c0c0c0"/>
<rect x="481" y="681" width="1" height="27" fill="#c0c0c0"/>
<rect x="489" y="681" width="1" height="21" fill="#c0c0c0"/>
<rect x="497" y="681" width="1" height="16" fill="#c0c0c0"/>
<rect x="505" y="681" width="1" height="13" fill="#c0c0c0"/>
<rect x="513" y="681" width="1" height="9" fill="#c0c0c0"/>
<rect x="521" y="681" width="1" height="2" fill="#c0c0c0"/>
<rect x="537" y="675" width="1" height="7" fill="#c0c0c0"/>
<rect x="545" y="667" width="1" height="15" fill="#c0c0c0"/>
<rect x="553" y="659" width="1" height="23" fill="#c0c0c0"/>
<rect x="561" y="653" width="1" height="29" fill="#c0c0c0"/>
<rect x="569" y="646" width="1" height="36" fill="#c0c0c0"/>
<rect x="577" y="642" width="1" height="40" fill="#c0c0c0"/>
<rect x="585" y="642" width="1" height="40" fill="#c0c0c0"/>
<rect x="593" y="643" width="1" height="39" fill="#c0c0c0"/>
<rect x="601" y="644" width="1" height="38" fill="#c0c0c0"/>
<rect x="609" y="644" width="1" height="38" fill="#c0c0c0"/>
<rect x="617" y="648" width="1" height="34" fill="#c0c0c0"/>
<rect x="625" y="651" width="1" height="31" fill="#c0c0c0"/>
<rect x="633" y="657" width="1" height="25" fill="#c0c0c0"/>
<rect x="641" y="659" width="1" height="23" fill="#c0c0c0"/>
<rect x="649" y="661" width="1" height="21" fill="#c0c0c0"/>
<rect x="657" y="665" width="1" height="17" fill="#c0c0c0"/>
<rect x="665" y="674" width="1" height="8" fill="#c0c0c0"/>
<rect x="673" y="681" width="1" height="4" fill="#c0c0c0"/>
<rect x="681" y="681" width="1" height="21" fill="#c0c0c0"/>
<rect x="689" y="681" width="1" height="37" fill="#c0c0c0"/>
<rect x="697" y="681" width="1" height="48" fill="#c0c0c0"/>
<rect x="705" y="681" width="1" height="57" fill="#c0c0c0"/>
<rect x="713" y="681" width="1" height="57" fill="#c0c0c0"/>
<rect x="721" y="681" width="1" height="49" fill="#c0c0c0"/>
<rect x="729" y="681" width="1" height="39" fill="#c0c0c0"/>
<rect x="737" y="681" width="1" height="25" fill="#c0c0c0"/>
<rect x="745" y="681" width="1" height="13" fill="#c0c0c0"/>
<rect x="761" y="665" width="1" height="17" fill="#c0c0c0"/>
<rect x="769" y="649" width="1" height="33" fill="#c0c0c0"/>
<rect x="777" y="637" width="1" height="45" fill="#c0c0c0"/>
<rect x="785" y="632" width="1" height="50" fill="#c0c0c0"/>
<rect x="793" y="623" width="1" height="59" fill="#c0c0c0"/>
<rect x="801" y="615" width="1" height="67" fill="#c0c0c0"/>
<rect x="809" y="605" width="1" height="77" fill="#c0c0c0"/>
<rect x="817" y="600" width="1" height="82" fill="#c0c0c0"/>
<rect x="825" y="602" width="1" height="80" fill="#c0c0c0"/>
<rect x="833" y="607" width="1" height="75" fill="#c0c0c0"/>
<rect x="841" y="612" width="1" height="70" fill="#c0c0c0"/>
<rect x="849" y="616" width="1" height="66" fill="#c0c0c0"/>
<rect x="857" y="614" width="1" height="68" fill="#c0c0c0"/>
<rect x="865" y="608" width="1" height="74" fill="#c0c0c0"/>
<rect x="873" y="607" width="1" height="75" fill="#c0c0c0"/>
<rect x="881" y="609" width="1" height="73" fill="#c0c0c0"/>
<rect x="889" y="609" width="1" height="73" fill="#c0c0c0"/>
<rect x="897" y="609" width="1" height="73" fill="#c0c0c0"/>
<rect x="905" y="613" width="1" height="69" fill="#c0c0c0"/>
<rect x="913" y="617" width="1" height="65" fill="#c0c0c0"/>
<rect x="921" y="619" width="1" height="63" fill="#c0c0c0"/>
<rect x="929" y="620" width="1" height="62" fill="#c0c0c0"/>
<rect x="937" y="619" width="1" height="63" fill="#c0c0c0"/>
<rect x="945" y="618" width="1" height="64" fill="#c0c0c0"/>
<rect x="953" y="621" width="1" height="61" fill="#c0c0c0"/>
<rect x="961" y="621" width="1" height="61" fill="#c0c0c0"/>
<rect x="969" y="624" width="1" height="58" fill="#c0c0c0"/>
<rect x="977" y="627" width="1" height="55" fill="#c0c0c0"/>
<rect x="985" y="630" width="1" height="52" fill="#c0c0c0"/>
<rect x="993" y="631" width="1" height="51" fill="#c0c0c0"/>
<rect x="1001" y="636" width="1" height="46" fill="#c0c0c0"/>
<rect x="1009" y="638" width="1" height="44" fill="#c0c0c0"/>
<rect x="1017" y="640" width="1" height="42" fill="#c0c0c0"/>
<rect x="1025" y="641" width="1" height="41" fill="#c0c0c0"/>
<rect x="1033" y="643" width="1" height="39" fill="#c0c0c0"/>
<rect x="1041" y="645" width="1" height="37" fill="#c0c0c0"/>
<rect x="1049" y="647" width="1" height="35" fill="#c0c0c0"/>
<rect x="1057" y="651" width="1" height="31" fill="#c0c0c0"/>
<rect x="1065" y="653" width="1" height="29" fill="#c0c0c0"/>
<rect x="1073" y="655" width="1" height="27" fill="#c0c0c0"/>
<rect x="1081" y="656" width="1" height="26" fill="#c0c0c0"/>
<rect x="1089" y="655" width="1" height="27" fill="#c0c0c0"/>
<rect x="1097" y="655" width="1" height="27" fill="#c0c0c0"/>
<rect x="1105" y="655" width="1" height="27" fill="#c0c0c0"/>
<rect x="1113" y="653" width="1" height="29" fill="#c0c0c0"/>
<rect x="1121" y="652" width="1" height="30" fill="#c0c0c0"/>
<rect x="1129" y="656" width="1" height="26" fill="#c0c0c0"/>
<rect x="1137" y="658" width="1" height="24" fill="#c0c0c0"/>
<rect x="1145" y="653" width="1" height="29" fill="#c0c0c0"/>
<rect x="1153" y="647" width="1" height="35" fill="#c0c0c0"/>
<rect x="1161" y="642" width="1" height="40" fill="#c0c0c0"/>
<rect x="1169" y="640" width="1" height="42" fill="#c0c0c0"/>
<rect x="1177" y="639" width="1" height="43" fill="#c0c0c0"/>
<rect x="1185" y="638" width="1" height="44" fill="#c0c0c0"/>
<rect x="1193" y="637" width="1" height="45" fill="#c0c0c0"/>
<rect x="1201" y="638" width="1" height="44" fill="#c0c0c0"/>
<rect x="1209" y="644" width="1" height="38" fill="#c0c0c0"/>
<rect x="1217" y="647" width="1" height="35" fill="#c0c0c0"/>
<rect x="1225" y="649" width="1" height="33" fill="#c0c0c0"/>
<rect x="1233" y="649" width="1" height="33" fill="#c0c0c0"/>
<rect x="1241" y="647" width="1" height="35" fill="#c0c0c0"/>
<rect x="1249" y="647" width="1" height="35" fill="#c0c0c0"/>
<rect x="1257" y="649" width="1" height="33" fill="#c0c0c0"/>
<rect x="1265" y="650" width="1" height="32" fill="#c0c0c0"/>
<rect x="1273" y="653" width="1" height="29" fill="#c0c0c0"/>
<rect x="1281" y="655" width="1" height="27" fill="#c0c0c0"/>
<rect x="1289" y="668" width="1" height="14" fill="#c0c0c0"/>
<rect x="1297" y="673" width="1" height="9" fill="#c0c0c0"/>
<rect x="1305" y="681" width="1" height="1" fill="#c0c0c0"/>
<rect x="1313" y="681" width="1" height="13" fill="#c0c0c0"/>
<rect x="1321" y="681" width="1" height="16" fill="#c0c0c0"/>
<rect x="1329" y="681" width="1" height="12" fill="#c0c0c0"/>
<rect x="1337" y="681" width="1" height="7" fill="#c0c0c0"/>
<rect x="1345" y="680" width="1" height="2" fill="#c0c0c0"/>
<rect x="1353" y="675" width="1" height="7" fill="#c0c0c0"/>
<rect x="1361" y="670" width="1" height="12" fill="#c0c0c0"/>
<rect x="1369" y="664" width="1" height="18" fill="#c0c0c0"/>
<rect x="1377" y="659" width="1" height="23" fill="#c0c0c0"/>
<rect x="1385" y="654" width="1" height="28" fill="#c0c0c0"/>
<rect x="1393" y="651" width="1" height="31" fill="#c0c0c0"/>
<rect x="1401" y="648" width="1" height="34" fill="#c0c0c0"/>
<rect x="1409" y="646" width="1" height="36" fill="#c0c0c0"/>
<rect x="1417" y="643" width="1" height="39" fill="#c0c0c0"/>
<rect x="1425" y="643" width="1" height="39" fill="#c0c0c0"/>
<rect x="1433" y="644" width="1" height="38" fill="#c0c0c0"/>
<polyline points="0.0,647.3 10.5,644.2 17.4,640.9 34.9,640.3 55.8,643.5 69.8,647.0 85.5,653.4 97.7,656.0 108.1,657.4 122.1,654.8 132.6,653.4 144.8,647.3 157.0,640.3 167.4,633.4 179.7,626.4 191.9,622.0 205.8,618.5 218.0,618.5 225.0,619.7 244.2,620.4 261.6,620.4 275.6,619.4 287.8,616.3 300.0,614.5 317.4,614.5 329.7,618.0 341.9,624.6 355.8,633.7 369.8,646.4 383.7,656.9 397.7,664.4 413.4,672.6 432.6,681.3 450.0,690.9 467.4,701.4 481.4,708.0 491.9,709.2 504.1,709.2 514.5,706.3 528.5,699.6 544.2,688.8 558.1,679.6 572.1,670.0 586.0,659.5 600.0,652.2 610.5,647.7 626.2,645.2 643.6,647.3 659.3,653.4 673.3,659.9 687.2,671.7 701.2,687.4 713.4,700.5 729.1,715.3 743.0,720.6 753.5,717.1 764.0,708.4 774.4,695.3 786.6,677.8 798.8,659.5 809.3,644.7 819.8,631.3 826.7,622.9 840.7,614.2 854.7,609.5 872.1,607.5 884.3,607.5 900.0,609.3 917.4,610.3 934.9,612.4 952.3,615.6 969.8,618.2 982.0,621.1 997.7,622.5 1011.6,627.2 1025.6,631.3 1039.5,635.1 1053.5,639.5 1067.4,643.5 1081.4,647.0 1091.9,649.6 1105.8,651.7 1121.5,653.4 1139.0,654.3 1151.2,653.4 1168.6,650.4 1180.8,647.3 1193.0,644.2 1203.5,642.1 1214.0,640.3 1229.7,640.3 1245.3,642.9 1262.8,645.6 1280.2,647.8 1290.7,652.5 1304.7,656.0 1315.1,663.9 1325.6,670.9 1337.8,677.8 1348.3,682.2 1360.5,683.6 1372.7,681.3 1384.9,675.2 1397.1,667.4 1409.3,660.4 1421.5,654.3 1433.7,648.2" fill="none" stroke="#ff0000" stroke-width="1" stroke-dasharray="3 2"/>
<line x1="0" y1="785.5" x2="1683" y2="785.5" stroke="#c0c0c0" stroke-width="1" stroke-dasharray="3 2"/>
<line x1="0" y1="836.5" x2="1683" y2="836.5" stroke="#c0c0c0" stroke-width="1" stroke-dasharray="3 2"/>
<line x1="0" y1="897.5" x2="1683" y2="897.5" stroke="#c0c0c0" stroke-width="1" stroke-dasharray="3 2"/>
<polyline points="0.0,817.6 1.5,817.3 9.5,816.3 17.5,825.7 25.5,833.2 33.5,833.2 41.5,827.7 49.5,834.2 57.5,831.6 65.5,831.6 73.5,834.2 81.5,834.2 89.5,826.1 97.5,821.4 105.5,811.0 113.5,807.0 121.5,805.5 129.5,806.4 137.5,798.2 145.5,799.6 153.5,795.6 161.5,795.2 169.5,800.1 177.5,798.6 185.5,801.1 193.5,806.4 201.5,817.3 209.5,812.0 217.5,808.4 225.5,806.4 233.5,796.2 241.5,802.5 249.5,799.6 257.5,794.8 265.5,793.7 273.5,790.3 281.5,809.0 289.5,802.1 297.5,794.6 305.5,831.6 313.5,833.6 321.5,833.6 329.5,826.7 337.5,849.3 345.5,834.2 353.5,843.4 361.5,843.4 369.5,838.1 377.5,834.2 385.5,837.5 393.5,835.2 401.5,839.1 409.5,844.0 417.5,845.4 425.5,856.2 433.5,851.3 441.5,864.5 449.5,855.8 457.5,850.3 465.5,848.4 473.5,836.2 481.5,839.5 489.5,831.2 497.5,833.0 505.5,837.1 513.5,831.2 521.5,826.3 529.5,836.5 537.5,821.8 545.5,817.9 553.5,816.3 561.5,818.2 569.5,812.3 577.5,816.9 585.5,823.2 593.5,823.2 601.5,824.7 609.5,821.4 617.5,832.2 625.5,830.3 633.5,840.5 641.5,830.3 649.5,834.2 657.5,837.5 665.5,851.9 673.5,860.2 681.5,871.0 689.5,874.5 697.5,872.4 705.5,875.5 713.5,853.3 721.5,836.5 729.5,833.2 737.5,822.4 745.5,822.4 753.5,817.5 761.5,808.6 769.5,805.5 777.5,805.5 785.5,814.3 793.5,807.6 801.5,804.5 809.5,801.1 817.5,805.1 825.5,815.9 833.5,822.2 841.5,823.4 849.5,821.2 857.5,812.0 865.5,806.4 873.5,812.0 881.5,815.5 889.5,813.3 897.5,813.3 905.5,819.4 913.5,818.2 921.5,816.3 929.5,812.9 937.5,808.4 945.5,807.0 953.5,817.3 961.5,812.5 969.5,816.9 977.5,818.2 985.5,818.2 993.5,814.3 1001.5,826.3 1009.5,820.4 1017.5,821.4 1025.5,818.2 1033.5,820.4 1041.5,820.4 1049.5,824.3 1057.5,830.3 1065.5,826.3 1073.5,825.3 1081.5,822.2 1089.5,813.3 1097.5,820.2 1105.5,815.9 1113.5,811.4 1121.5,810.4 1129.5,834.0 1137.5,828.1 1145.5,810.0 1153.5,805.7 1161.5,803.1 1169.5,809.4 1177.5,809.4 1185.5,807.0 1193.5,808.0 1201.5,811.4 1209.5,828.3 1217.5,827.1 1225.5,822.2 1233.5,817.5 1241.5,809.4 1249.5,814.3 1257.5,822.4 1265.5,820.2 1273.5,827.3 1281.5,827.3 1289.5,862.5 1297.5,843.4 1305.5,859.2 1313.5,862.5 1321.5,846.4 1329.5,833.2 1337.5,831.2 1345.5,824.3 1353.5,822.2 1361.5,822.2 1369.5,817.5 1377.5,816.3 1385.5,815.3 1393.5,815.3 1401.5,813.3 1409.5,812.0 1417.5,810.0 1425.5,816.5 1433.5,813.3" fill="none" stroke="#1e90ff" stroke-width="1"/>
</g>
<line x1="1309.0" y1="219.6" x2="1433.5" y2="54.0" stroke="#ff0000" stroke-width="3.5"/>
<polygon points="1438.0,48.0 1435.7,58.2 1428.9,53.0" fill="#ff0000"/>
<line x1="1318.3" y1="698.4" x2="1434.2" y2="645.6" stroke="#ff0000" stroke-width="3.5"/>
<polygon points="1441.0,642.5 1434.1,650.4 1430.6,642.5" fill="#ff0000"/>
<line x1="1311.5" y1="848.4" x2="1421.5" y2="808.1" stroke="#ff0000" stroke-width="3.5"/>
<polygon points="1428.5,805.5 1421.1,812.8 1418.1,804.7" fill="#ff0000"/>
<g shape-rendering="crispEdges">
<rect x="0" y="22" width="1684" height="1" fill="#000"/>
<rect x="1683" y="22" width="1" height="568" fill="#000"/>
<rect x="0" y="589" width="1684" height="1" fill="#000"/>
<rect x="0" y="591" width="1684" height="1" fill="#000"/>
<rect x="1683" y="591" width="1" height="157" fill="#000"/>
<rect x="0" y="747" width="1684" height="1" fill="#000"/>
<rect x="0" y="749" width="1684" height="1" fill="#000"/>
<rect x="1683" y="749" width="1" height="175" fill="#000"/>
<rect x="0" y="923" width="1684" height="1" fill="#000"/>
<rect x="1684" y="124" width="2" height="1" fill="#000"/>
<rect x="1684" y="157" width="2" height="1" fill="#000"/>
<rect x="1684" y="190" width="2" height="1" fill="#000"/>
<rect x="1684" y="223" width="2" height="1" fill="#000"/>
<rect x="1684" y="256" width="2" height="1" fill="#000"/>
<rect x="1684" y="289" width="2" height="1" fill="#000"/>
<rect x="1684" y="322" width="2" height="1" fill="#000"/>
<rect x="1684" y="355" width="2" height="1" fill="#000"/>
<rect x="1684" y="388" width="2" height="1" fill="#000"/>
<rect x="1684" y="421" width="2" height="1" fill="#000"/>
<rect x="1684" y="454" width="2" height="1" fill="#000"/>
<rect x="1684" y="487" width="2" height="1" fill="#000"/>
<rect x="1684" y="520" width="2" height="1" fill="#000"/>
<rect x="1684" y="553" width="2" height="1" fill="#000"/>
<rect x="1684" y="586" width="2" height="1" fill="#000"/>
</g>
<text transform="translate(1689,127.7) scale(0.94,1)" font-size="9.7" fill="#000" text-anchor="start" font-weight="normal">30837.0</text>
<text transform="translate(1689,160.7) scale(0.94,1)" font-size="9.7" fill="#000" text-anchor="start" font-weight="normal">30480.0</text>
<text transform="translate(1689,193.7) scale(0.94,1)" font-size="9.7" fill="#000" text-anchor="start" font-weight="normal">30112.5</text>
<text transform="translate(1689,226.7) scale(0.94,1)" font-size="9.7" fill="#000" text-anchor="start" font-weight="normal">29755.5</text>
<text transform="translate(1689,259.7) scale(0.94,1)" font-size="9.7" fill="#000" text-anchor="start" font-weight="normal">29388.0</text>
<text transform="translate(1689,292.7) scale(0.94,1)" font-size="9.7" fill="#000" text-anchor="start" font-weight="normal">29031.0</text>
<text transform="translate(1689,325.7) scale(0.94,1)" font-size="9.7" fill="#000" text-anchor="start" font-weight="normal">28663.5</text>
<text transform="translate(1689,358.7) scale(0.94,1)" font-size="9.7" fill="#000" text-anchor="start" font-weight="normal">28296.0</text>
<text transform="translate(1689,391.7) scale(0.94,1)" font-size="9.7" fill="#000" text-anchor="start" font-weight="normal">27939.0</text>
<text transform="translate(1689,424.7) scale(0.94,1)" font-size="9.7" fill="#000" text-anchor="start" font-weight="normal">27571.5</text>
<text transform="translate(1689,457.7) scale(0.94,1)" font-size="9.7" fill="#000" text-anchor="start" font-weight="normal">27214.5</text>
<text transform="translate(1689,490.7) scale(0.94,1)" font-size="9.7" fill="#000" text-anchor="start" font-weight="normal">26847.0</text>
<text transform="translate(1689,523.7) scale(0.94,1)" font-size="9.7" fill="#000" text-anchor="start" font-weight="normal">26490.0</text>
<text transform="translate(1689,556.7) scale(0.94,1)" font-size="9.7" fill="#000" text-anchor="start" font-weight="normal">26122.5</text>
<text transform="translate(1689,589.7) scale(0.94,1)" font-size="9.7" fill="#000" text-anchor="start" font-weight="normal">25765.5</text>
<g shape-rendering="crispEdges">
<rect x="1684" y="25" width="2" height="1" fill="#000"/>
<rect x="1685" y="24" width="41" height="22" fill="#ff0000"/>
<rect x="1685" y="55" width="41" height="6" fill="#000"/>
<rect x="1685" y="61" width="41" height="11" fill="#32cd32"/>
<rect x="1685" y="74" width="41" height="11" fill="#0000ff"/>
<rect x="1685" y="90" width="41" height="11" fill="#0000ff"/>
</g>
<text transform="translate(1689,33) scale(0.94,1)" font-size="9.7" fill="#fff" text-anchor="start" font-weight="normal">31874.2</text>
<text transform="translate(1689,43.8) scale(0.94,1)" font-size="9.7" fill="#fff" text-anchor="start" font-weight="normal">31754.5</text>
<clipPath id="cpb"><rect x="1685" y="55" width="41" height="6"/></clipPath>
<g clip-path="url(#cpb)">
<text transform="translate(1689,64.2) scale(0.94,1)" font-size="9.7" fill="#fff" text-anchor="start" font-weight="normal">31544.0</text>
</g>
<text transform="translate(1689,69.3) scale(0.94,1)" font-size="9.7" fill="#fff" text-anchor="start" font-weight="normal">31471.5</text>
<text transform="translate(1689,82.7) scale(0.94,1)" font-size="9.7" fill="#fff" text-anchor="start" font-weight="normal">31330.0</text>
<text transform="translate(1689,98.8) scale(0.94,1)" font-size="9.7" fill="#fff" text-anchor="start" font-weight="normal">31144.9</text>
<g shape-rendering="crispEdges">
<rect x="1684" y="593" width="2" height="1" fill="#000"/>
<rect x="1684" y="681" width="2" height="1" fill="#000"/>
<rect x="1684" y="741" width="2" height="1" fill="#000"/>
<rect x="1684" y="757" width="2" height="1" fill="#000"/>
<rect x="1684" y="785" width="2" height="1" fill="#000"/>
<rect x="1684" y="836" width="2" height="1" fill="#000"/>
<rect x="1684" y="897" width="2" height="1" fill="#000"/>
<rect x="1684" y="917" width="2" height="1" fill="#000"/>
</g>
<text transform="translate(1687.5,602) scale(0.94,1)" font-size="9.7" fill="#000" text-anchor="start" font-weight="normal">565.66</text>
<text transform="translate(1687.5,685) scale(0.94,1)" font-size="9.7" fill="#000" text-anchor="start" font-weight="normal">0.00</text>
<text transform="translate(1687.2,743.2) scale(0.94,1)" font-size="9.7" fill="#000" text-anchor="start" font-weight="normal">-419.33</text>
<text transform="translate(1687.5,759.8) scale(0.94,1)" font-size="9.7" fill="#000" text-anchor="start" font-weight="normal">100</text>
<text transform="translate(1687.5,789) scale(0.94,1)" font-size="9.7" fill="#000" text-anchor="start" font-weight="normal">80</text>
<text transform="translate(1687.5,840) scale(0.94,1)" font-size="9.7" fill="#000" text-anchor="start" font-weight="normal">50</text>
<text transform="translate(1687.5,901) scale(0.94,1)" font-size="9.7" fill="#000" text-anchor="start" font-weight="normal">15</text>
<text transform="translate(1687.5,919.5) scale(0.94,1)" font-size="9.7" fill="#000" text-anchor="start" font-weight="normal">0</text>
<text transform="translate(-1.5,604.3) scale(0.955,1)" font-size="9.8" fill="#000" text-anchor="start" font-weight="normal">MACD(12,26,9) 255.44 204.80</text>
<text transform="translate(-1.5,761.8) scale(0.94,1)" font-size="9.7" fill="#000" text-anchor="start" font-weight="normal">RSI(14) 63.8944</text>
<g shape-rendering="crispEdges">
<rect x="57" y="923" width="1" height="4" fill="#000"/>
<rect x="121" y="923" width="1" height="4" fill="#000"/>
<rect x="185" y="923" width="1" height="4" fill="#000"/>
<rect x="249" y="923" width="1" height="4" fill="#000"/>
<rect x="313" y="923" width="1" height="4" fill="#000"/>
<rect x="377" y="923" width="1" height="4" fill="#000"/>
<rect x="441" y="923" width="1" height="4" fill="#000"/>
<rect x="505" y="923" width="1" height="4" fill="#000"/>
<rect x="569" y="923" width="1" height="4" fill="#000"/>
<rect x="633" y="923" width="1" height="4" fill="#000"/>
<rect x="697" y="923" width="1" height="4" fill="#000"/>
<rect x="761" y="923" width="1" height="4" fill="#000"/>
<rect x="825" y="923" width="1" height="4" fill="#000"/>
<rect x="889" y="923" width="1" height="4" fill="#000"/>
<rect x="953" y="923" width="1" height="4" fill="#000"/>
<rect x="1017" y="923" width="1" height="4" fill="#000"/>
<rect x="1081" y="923" width="1" height="4" fill="#000"/>
<rect x="1145" y="923" width="1" height="4" fill="#000"/>
<rect x="1209" y="923" width="1" height="4" fill="#000"/>
<rect x="1273" y="923" width="1" height="4" fill="#000"/>
<rect x="1337" y="923" width="1" height="4" fill="#000"/>
<rect x="1401" y="923" width="1" height="4" fill="#000"/>
</g>
<text transform="translate(-8.3,936) scale(0.93,1)" font-size="9.8" fill="#000" text-anchor="start" font-weight="normal">20 Jul 2020</text>
<text transform="translate(55.7,936) scale(0.93,1)" font-size="9.8" fill="#000" text-anchor="start" font-weight="normal">29 Jul 2020</text>
<text transform="translate(119.7,936) scale(0.93,1)" font-size="9.8" fill="#000" text-anchor="start" font-weight="normal">7 Aug 2020</text>
<text transform="translate(183.7,936) scale(0.93,1)" font-size="9.8" fill="#000" text-anchor="start" font-weight="normal">17 Aug 2020</text>
<text transform="translate(247.7,936) scale(0.93,1)" font-size="9.8" fill="#000" text-anchor="start" font-weight="normal">26 Aug 2020</text>
<text transform="translate(311.7,936) scale(0.93,1)" font-size="9.8" fill="#000" text-anchor="start" font-weight="normal">4 Sep 2020</text>
<text transform="translate(375.7,936) scale(0.93,1)" font-size="9.8" fill="#000" text-anchor="start" font-weight="normal">14 Sep 2020</text>
<text transform="translate(439.7,936) scale(0.93,1)" font-size="9.8" fill="#000" text-anchor="start" font-weight="normal">23 Sep 2020</text>
<text transform="translate(503.7,936) scale(0.93,1)" font-size="9.8" fill="#000" text-anchor="start" font-weight="normal">2 Oct 2020</text>
<text transform="translate(567.7,936) scale(0.93,1)" font-size="9.8" fill="#000" text-anchor="start" font-weight="normal">12 Oct 2020</text>
<text transform="translate(631.7,936) scale(0.93,1)" font-size="9.8" fill="#000" text-anchor="start" font-weight="normal">21 Oct 2020</text>
<text transform="translate(695.7,936) scale(0.93,1)" font-size="9.8" fill="#000" text-anchor="start" font-weight="normal">30 Oct 2020</text>
<text transform="translate(759.7,936) scale(0.93,1)" font-size="9.8" fill="#000" text-anchor="start" font-weight="normal">9 Nov 2020</text>
<text transform="translate(823.7,936) scale(0.93,1)" font-size="9.8" fill="#000" text-anchor="start" font-weight="normal">18 Nov 2020</text>
<text transform="translate(887.7,936) scale(0.93,1)" font-size="9.8" fill="#000" text-anchor="start" font-weight="normal">27 Nov 2020</text>
<text transform="translate(951.7,936) scale(0.93,1)" font-size="9.8" fill="#000" text-anchor="start" font-weight="normal">7 Dec 2020</text>
<text transform="translate(1015.7,936) scale(0.93,1)" font-size="9.8" fill="#000" text-anchor="start" font-weight="normal">16 Dec 2020</text>
<text transform="translate(1079.7,936) scale(0.93,1)" font-size="9.8" fill="#000" text-anchor="start" font-weight="normal">27 Dec 2020</text>
<text transform="translate(1143.7,936) scale(0.93,1)" font-size="9.8" fill="#000" text-anchor="start" font-weight="normal">6 Jan 2021</text>
<text transform="translate(1207.7,936) scale(0.93,1)" font-size="9.8" fill="#000" text-anchor="start" font-weight="normal">15 Jan 2021</text>
<text transform="translate(1271.7,936) scale(0.93,1)" font-size="9.8" fill="#000" text-anchor="start" font-weight="normal">25 Jan 2021</text>
<text transform="translate(1335.7,936) scale(0.93,1)" font-size="9.8" fill="#000" text-anchor="start" font-weight="normal">3 Feb 2021</text>
<text transform="translate(1399.7,936) scale(0.93,1)" font-size="9.8" fill="#000" text-anchor="start" font-weight="normal">12 Feb 2021</text>
<defs>
<linearGradient id="gb" x1="0" y1="0" x2="0" y2="1"><stop offset="0" stop-color="#5252f2"/><stop offset="0.38" stop-color="#3a3ae0"/><stop offset="1" stop-color="#0000a6"/></linearGradient>
<linearGradient id="gg" x1="0" y1="0" x2="0" y2="1"><stop offset="0" stop-color="#f4f4f4"/><stop offset="1" stop-color="#cfcfcf"/></linearGradient>
<pattern id="chk" width="2" height="2" patternUnits="userSpaceOnUse"><rect width="2" height="2" fill="#fff"/><rect width="1" height="1" fill="#f0f0f0"/><rect x="1" y="1" width="1" height="1" fill="#f0f0f0"/></pattern>
</defs>
<g shape-rendering="crispEdges">
<rect x="0" y="0" width="1729" height="18" fill="#f0f0f0"/>
<rect x="0" y="18" width="1729" height="1" fill="#b4b4b4"/>
<rect x="0" y="19" width="1729" height="1" fill="#6e6e6e"/>
<rect x="0" y="20" width="1729" height="2" fill="#fff"/>
<rect x="320" y="0" width="23" height="16" fill="url(#chk)"/>
<rect x="471" y="0" width="24" height="16" fill="url(#chk)"/>
<rect x="499" y="0" width="24" height="16" fill="url(#chk)"/>
<rect x="659" y="0" width="24" height="16" fill="url(#chk)"/>
<rect x="1133" y="0" width="25" height="16" fill="url(#chk)"/>
<rect x="44" y="0" width="1" height="16" fill="#a0a0a0"/>
<rect x="318" y="0" width="1" height="16" fill="#a0a0a0"/>
<rect x="375" y="0" width="1" height="16" fill="#a0a0a0"/>
<rect x="465" y="0" width="1" height="16" fill="#a0a0a0"/>
<rect x="470" y="0" width="1" height="16" fill="#a0a0a0"/>
<rect x="498" y="0" width="1" height="16" fill="#a0a0a0"/>
<rect x="527" y="0" width="1" height="16" fill="#a0a0a0"/>
<rect x="658" y="0" width="1" height="16" fill="#a0a0a0"/>
<rect x="715" y="0" width="1" height="16" fill="#a0a0a0"/>
<rect x="1132" y="0" width="1" height="16" fill="#a0a0a0"/>
<rect x="280" y="0" width="1" height="18" fill="#8c8c8c"/>
<rect x="281" y="0" width="1" height="18" fill="#fdfdfd"/>
<rect x="648" y="0" width="1" height="18" fill="#8c8c8c"/>
<rect x="649" y="0" width="1" height="18" fill="#fdfdfd"/>
<rect x="954" y="0" width="1" height="18" fill="#8c8c8c"/>
<rect x="955" y="0" width="1" height="18" fill="#fdfdfd"/>
<rect x="1215" y="0" width="1" height="18" fill="#8c8c8c"/>
<rect x="1216" y="0" width="1" height="18" fill="#fdfdfd"/>
<rect x="284" y="0" width="4" height="1" fill="#a8a8a8"/>
<rect x="284" y="2" width="4" height="1" fill="#a8a8a8"/>
<rect x="284" y="4" width="4" height="1" fill="#a8a8a8"/>
<rect x="284" y="6" width="4" height="1" fill="#a8a8a8"/>
<rect x="284" y="8" width="4" height="1" fill="#a8a8a8"/>
<rect x="284" y="10" width="4" height="1" fill="#a8a8a8"/>
<rect x="284" y="12" width="4" height="1" fill="#a8a8a8"/>
<rect x="284" y="14" width="4" height="1" fill="#a8a8a8"/>
<rect x="652" y="0" width="4" height="1" fill="#a8a8a8"/>
<rect x="652" y="2" width="4" height="1" fill="#a8a8a8"/>
<rect x="652" y="4" width="4" height="1" fill="#a8a8a8"/>
<rect x="652" y="6" width="4" height="1" fill="#a8a8a8"/>
<rect x="652" y="8" width="4" height="1" fill="#a8a8a8"/>
<rect x="652" y="10" width="4" height="1" fill="#a8a8a8"/>
<rect x="652" y="12" width="4" height="1" fill="#a8a8a8"/>
<rect x="652" y="14" width="4" height="1" fill="#a8a8a8"/>
<rect x="958" y="0" width="4" height="1" fill="#a8a8a8"/>
<rect x="958" y="2" width="4" height="1" fill="#a8a8a8"/>
<rect x="958" y="4" width="4" height="1" fill="#a8a8a8"/>
<rect x="958" y="6" width="4" height="1" fill="#a8a8a8"/>
<rect x="958" y="8" width="4" height="1" fill="#a8a8a8"/>
<rect x="958" y="10" width="4" height="1" fill="#a8a8a8"/>
<rect x="958" y="12" width="4" height="1" fill="#a8a8a8"/>
<rect x="958" y="14" width="4" height="1" fill="#a8a8a8"/>
</g>
<rect x="-4" y="-3" width="10" height="15" fill="#fff" stroke="#4a7fd6" stroke-width="1.2"/>
<line x1="-3" y1="1" x2="5" y2="1" stroke="#9db8f0" stroke-width="0.8"/>
<line x1="-3" y1="3.5" x2="5" y2="3.5" stroke="#9db8f0" stroke-width="0.8"/>
<line x1="-3" y1="6" x2="5" y2="6" stroke="#9db8f0" stroke-width="0.8"/>
<line x1="-3" y1="8.5" x2="5" y2="8.5" stroke="#9db8f0" stroke-width="0.8"/>
<rect x="20.5" y="-3" width="10" height="13" fill="#f4f1ea" stroke="#b8b2a4" stroke-width="1"/>
<line x1="31.3" y1="10.6" x2="35.8" y2="15" stroke="#c8961e" stroke-width="2.4"/>
<circle cx="27.1" cy="6.9" r="4.7" fill="#dfe9f8" fill-opacity="0.85" stroke="#7da2e2" stroke-width="1.2"/>
<rect x="25.6" y="4.2" width="3" height="5" fill="#b9c4d8"/>
<path d="M54.5,-2 h8 l3,3 v10 h-11 z" fill="#fff" stroke="#909090" stroke-width="1"/>
<line x1="57" y1="3" x2="62" y2="3" stroke="#888" stroke-width="1"/><line x1="57" y1="5.5" x2="61" y2="5.5" stroke="#888" stroke-width="1"/><line x1="57" y1="8" x2="60" y2="8" stroke="#888" stroke-width="1"/>
<path d="M62,5 h4 v3.5 h3.5 v4 h-3.5 v3.5 h-4 v-3.5 h-3.5 v-4 h3.5 z" fill="#22c622" stroke="#0f8a0f" stroke-width="0.8"/>
<path d="M121,8 L127.5,-1 L137,5.5 L136,9 L129.5,13.5 L121,10 z" fill="#d9a520" stroke="#a8780e" stroke-width="0.8"/>
<path d="M122,8.2 L128,0.5 L135.5,5.6 L129.5,11.5 z" fill="#f2cf5a"/>
<rect x="151" y="-2" width="11" height="9" fill="#2f8fe8" stroke="#1c6fc4" stroke-width="0.8"/>
<rect x="153.5" y="1.5" width="6" height="1.4" fill="#cfe6ff"/><rect x="153.5" y="4" width="6" height="1.2" fill="#cfe6ff"/>
<g fill="#e6ebf4" stroke="#8fa3c4" stroke-width="0.9"><ellipse cx="153.3" cy="11" rx="4" ry="2.7"/><ellipse cx="160.6" cy="10.6" rx="4.3" ry="3.1"/><ellipse cx="156.8" cy="9.2" rx="3.6" ry="2.6"/></g><g fill="#e6ebf4"><ellipse cx="153.3" cy="11" rx="3.5" ry="2.2"/><ellipse cx="160.6" cy="10.6" rx="3.8" ry="2.6"/><ellipse cx="156.8" cy="9.4" rx="3.2" ry="2.3"/><rect x="152" y="10" width="9" height="3"/></g>
<g fill="none" stroke-width="1.5"><path d="M185,-1.6 a7.4,7.4 0 0 0 0,14.8" stroke="#a8c0f0"/><path d="M185,1.6 a4.2,4.2 0 0 0 0,8.4" stroke="#5b8ae0"/><path d="M185,-1.6 a7.4,7.4 0 0 1 0,14.8" stroke="#86c486"/><path d="M185,1.6 a4.2,4.2 0 0 1 0,8.4" stroke="#4aa84a"/></g>
<circle cx="185" cy="5.5" r="1.8" fill="#3366d6"/><rect x="184.7" y="6" width="1.6" height="7.6" fill="#2ea02e"/>
<path d="M205,4 L219.5,4 L212,13.5 z" fill="#f0c82a" stroke="#c89a14" stroke-width="0.8"/>
<ellipse cx="212" cy="2.5" rx="8" ry="2.6" fill="#3b9be0" stroke="#2a78c0" stroke-width="0.6"/><rect x="208" y="-3" width="8" height="5" fill="#5fb4ea"/>
<circle cx="216.5" cy="10" r="4.1" fill="#d9281c"/><rect x="214.9" y="8.4" width="3.2" height="3.2" fill="#fff"/>
<g stroke="#4a4a4a" stroke-width="1.1" fill="none"><line x1="298.4" y1="-1" x2="298.4" y2="13.8"/><line x1="295.9" y1="11.5" x2="309.4" y2="11.5"/><path d="M307.4,9.8 l2.4,1.7 l-2.4,1.7" /><line x1="296.9" y1="1.5" x2="299.9" y2="1.5"/></g>
<path d="M302.5,8.7 h2.3 v-6.5 h2.3" stroke="#1f9a1f" stroke-width="1.2" fill="none"/>
<g stroke="#4a4a4a" stroke-width="1.1" fill="none"><line x1="326.5" y1="-1" x2="326.5" y2="13.8"/><line x1="324.0" y1="11.5" x2="337.5" y2="11.5"/><path d="M335.5,9.8 l2.4,1.7 l-2.4,1.7" /><line x1="325.0" y1="1.5" x2="328.0" y2="1.5"/></g>
<rect x="330.5" y="-1" width="4.4" height="8.6" fill="#2fc42f" stroke="#168c16" stroke-width="0.8"/><line x1="332.7" y1="7.6" x2="332.7" y2="9.8" stroke="#168c16" stroke-width="1.2"/>
<g stroke="#4a4a4a" stroke-width="1.1" fill="none"><line x1="354.4" y1="-1" x2="354.4" y2="13.8"/><line x1="351.9" y1="11.5" x2="365.4" y2="11.5"/><path d="M363.4,9.8 l2.4,1.7 l-2.4,1.7" /><line x1="352.9" y1="1.5" x2="355.9" y2="1.5"/></g>
<path d="M353.5,8.8 C356,6 358,2.8 359.5,3 C361,3.2 362.5,6.5 364.8,7.6" stroke="#2a9a3a" stroke-width="1.1" fill="none"/>
<line x1="394.2" y1="8.5" x2="399.2" y2="13" stroke="#d4a72c" stroke-width="2.6"/>
<circle cx="390.2" cy="3.6" r="5.4" fill="#d8e8fa" stroke="#3a7bd0" stroke-width="1.2"/>
<line x1="387.2" y1="3.8" x2="393.2" y2="3.8" stroke="#3a78c8" stroke-width="1.5"/>
<line x1="390.2" y1="0.8" x2="390.2" y2="6.8" stroke="#3a78c8" stroke-width="1.5"/>
<line x1="422" y1="8.5" x2="427" y2="13" stroke="#d4a72c" stroke-width="2.6"/>
<circle cx="418" cy="3.6" r="5.4" fill="#d8e8fa" stroke="#3a7bd0" stroke-width="1.2"/>
<line x1="415" y1="3.8" x2="421" y2="3.8" stroke="#3a78c8" stroke-width="1.5"/>
<rect x="440" y="-1" width="7.6" height="7" fill="#3fa83f"/><rect x="448.4" y="-1" width="7.6" height="7" fill="#2f6fd8"/><rect x="440" y="6.8" width="7.6" height="6.8" fill="#2f6fd8"/><rect x="448.4" y="6.8" width="7.6" height="6.8" fill="#3fa83f"/>
<rect x="441.3" y="1.5" width="5" height="3.4" fill="#fff" fill-opacity="0.92"/>
<rect x="449.7" y="1.5" width="5" height="3.4" fill="#fff" fill-opacity="0.92"/>
<rect x="441.3" y="8.6" width="5" height="3.4" fill="#fff" fill-opacity="0.92"/>
<rect x="449.7" y="8.6" width="5" height="3.4" fill="#fff" fill-opacity="0.92"/>
<g stroke="#4a4a4a" stroke-width="1.1" fill="none"><line x1="478.4" y1="-1" x2="478.4" y2="13.8"/><line x1="475.9" y1="11.5" x2="489.4" y2="11.5"/><path d="M487.4,9.8 l2.4,1.7 l-2.4,1.7" /><line x1="476.9" y1="1.5" x2="479.9" y2="1.5"/></g>
<path d="M483.2,2.3 L487.2,5.6 L483.2,8.8 z" fill="#3fc03f" stroke="#1f8f1f" stroke-width="0.8"/>
<g stroke="#4a4a4a" stroke-width="1.1" fill="none"><line x1="506.6" y1="-1" x2="506.6" y2="13.8"/><line x1="504.1" y1="11.5" x2="517.6" y2="11.5"/><path d="M515.6,9.8 l2.4,1.7 l-2.4,1.7" /><line x1="505.1" y1="1.5" x2="508.1" y2="1.5"/></g>
<line x1="512.6" y1="-1" x2="512.6" y2="9.6" stroke="#1a6aa8" stroke-width="1.2"/><path d="M518.2,5.6 h-4.2 m2.4,-2.2 l-2.6,2.2 l2.6,2.2" stroke="#d04010" stroke-width="1.1" fill="none"/>
<path d="M537.5,-2 h8 l3,3 v10.5 h-11 z" fill="#fff" stroke="#909090" stroke-width="1"/>
<path d="M540,2 v6 M540,3 h2 M540,6 h2" stroke="#666" stroke-width="0.8" fill="none"/>
<path d="M545,4.6 h4 v3.6 h3.7 v4 h-3.7 v3.6 h-4 v-3.6 h-3.7 v-4 h3.7 z" fill="#22c622" stroke="#0f8a0f" stroke-width="0.8"/>
<polygon points="558.8,5.2 564.4,5.2 561.5999999999999,8.2" fill="#000"/>
<polygon points="597.8,5.2 603.4,5.2 600.5999999999999,8.2" fill="#000"/>
<polygon points="636.8,5.2 642.4,5.2 639.5999999999999,8.2" fill="#000"/>
<polygon points="942.8,5.2 948.4,5.2 945.5999999999999,8.2" fill="#000"/>
<circle cx="583" cy="5.6" r="6.9" fill="#f4f6fa" stroke="#1f6fd6" stroke-width="2.7"/><circle cx="583" cy="5.6" r="4.6" fill="none" stroke="#c4c8d0" stroke-width="1" stroke-dasharray="0.8 1.6"/><path d="M583,1.8 v4 h2.8" stroke="#333" stroke-width="1.1" fill="none"/>
<rect x="614.5" y="-1" width="15" height="13.3" fill="#fff" stroke="#3a78d0" stroke-width="1.1"/><rect x="614.5" y="-1" width="15" height="2.6" fill="#5a96e0"/><line x1="614.5" y1="7" x2="629.5" y2="7" stroke="#3a78d0" stroke-width="0.9"/>
<path d="M616.5,5.3 l2.5,-0.3 l2.5,-1.6 l2.5,0.8 l3,-1.2" stroke="#a02818" stroke-width="1.1" fill="none"/><path d="M616.5,10.6 l2.5,-0.8 l2,0.6 l3,-2.2 l3,2" stroke="#1f9a2f" stroke-width="1.1" fill="none"/>
<path d="M666.6,-3 L666.6,9.6 L669.3,7.2 L671.6,13 L673.4,12.2 L671.2,6.8 L674.6,6.6 z" fill="#444"/>
<g stroke="#4a4a4a" stroke-width="1.1"><line x1="691" y1="6.4" x2="706" y2="6.4"/><line x1="698.4" y1="-1" x2="698.4" y2="13.8"/></g>
<rect x="697.9" y="5.9" width="1" height="1" fill="#f0f0f0"/>
<g stroke="#4a4a4a" stroke-width="1.1"><line x1="732.4" y1="-1" x2="732.4" y2="13"/><line x1="755.2" y1="6.4" x2="767" y2="6.4"/><line x1="782.7" y1="13" x2="795.2" y2="0.8"/></g>
<g stroke="#4a4a4a" stroke-width="1"><line x1="808.5" y1="7.6" x2="817" y2="-1"/><line x1="810.5" y1="12.6" x2="822.5" y2="0.5"/><line x1="814" y1="13" x2="823" y2="4"/></g>
<g stroke="#4a4a4a" stroke-width="0.8"><line x1="812.5" y1="5" x2="813" y2="10"/><line x1="815" y1="3" x2="816" y2="8"/><line x1="817.5" y1="1" x2="818.5" y2="6"/><line x1="820" y1="-1" x2="821" y2="4"/></g>
<text x="819.6" y="14.8" font-size="6.6" font-weight="bold" fill="#333">E</text>
<line x1="838" y1="2.5" x2="851" y2="2.5" stroke="#4a4a4a" stroke-width="1" stroke-dasharray="1 1"/>
<line x1="838" y1="6.4" x2="851" y2="6.4" stroke="#4a4a4a" stroke-width="1" stroke-dasharray="1 1"/>
<line x1="838" y1="10.5" x2="848" y2="10.5" stroke="#4a4a4a" stroke-width="1" stroke-dasharray="1 1"/>
<text x="847.8" y="15" font-size="6.6" font-weight="bold" fill="#333">F</text>
<text transform="translate(868.8,10.9) scale(0.9,1)" font-size="12.2" font-weight="bold" fill="#555">A</text>
<rect x="895.5" y="-1" width="11.2" height="13.8" fill="none" stroke="#4a4a4a" stroke-width="1" stroke-dasharray="1 1"/>
<text x="897" y="10.8" font-size="11.5" font-weight="bold" fill="#555">T</text>
<path d="M925.6,-1.5 l3.4,3.4 l-3.4,2.6 l-3.4,-2.6 z" fill="#444"/><path d="M932.5,8 l3.6,0 l-3.6,4.6 l-3.6,-4.6 z" fill="#444"/><path d="M924,7.2 l2.4,2.2 l4.6,-5.4" stroke="#444" stroke-width="1.2" fill="none"/>
<text x="969.6" y="9.9" font-size="9.6" fill="#3c3c3c" textLength="12.4" lengthAdjust="spacingAndGlyphs">M1</text>
<text x="997.6" y="9.9" font-size="9.6" fill="#3c3c3c" textLength="12.4" lengthAdjust="spacingAndGlyphs">M5</text>
<text x="1023.6" y="9.9" font-size="9.6" fill="#3c3c3c" textLength="17.6" lengthAdjust="spacingAndGlyphs">M15</text>
<text x="1051.6" y="9.9" font-size="9.6" fill="#3c3c3c" textLength="17.4" lengthAdjust="spacingAndGlyphs">M30</text>
<text x="1082.8" y="9.9" font-size="9.6" fill="#3c3c3c" textLength="11.4" lengthAdjust="spacingAndGlyphs">H1</text>
<text x="1109.8" y="9.9" font-size="9.6" fill="#3c3c3c" textLength="12.2" lengthAdjust="spacingAndGlyphs">H4</text>
<text x="1138.7" y="9.9" font-size="9.6" fill="#3c3c3c" textLength="11.2" lengthAdjust="spacingAndGlyphs">D1</text>
<text x="1166" y="9.9" font-size="9.6" fill="#3c3c3c" textLength="14" lengthAdjust="spacingAndGlyphs">W1</text>
<text x="1192.8" y="9.9" font-size="9.6" fill="#3c3c3c" textLength="14.4" lengthAdjust="spacingAndGlyphs">MN</text>
<line x1="1682.6" y1="6.6" x2="1678" y2="10.8" stroke="#2a5fd0" stroke-width="2.2"/><circle cx="1685.6" cy="3.4" r="3.8" fill="#fff" stroke="#2f66dd" stroke-width="1.1"/>
<path d="M1702,8 a5.6,4.6 0 0 1 11.2,0 a5.6,4.6 0 0 1 -5.6,4.6 l-1.2,0 l-1.6,2.2 l-0.3,-2.6 a5,4.4 0 0 1 -2.5,-4.2 z" fill="#e1e4ec" stroke="#b6bac6" stroke-width="0.8"/>
<circle cx="1716.2" cy="3.8" r="8.3" fill="#dc3220"/>
<text x="1716.2" y="8.4" font-size="14.5" font-weight="bold" style="font-family:'Liberation Serif',serif" fill="#fff" text-anchor="middle">1</text>
<text x="73" y="9.3" font-size="12" fill="#000" textLength="36" lengthAdjust="spacingAndGlyphs" style="font-family:'Liberation Sans','Noto Sans CJK SC',sans-serif">新订单</text>
<text x="227" y="9.3" font-size="11.5" fill="#000" textLength="45.5" lengthAdjust="spacingAndGlyphs" style="font-family:'Liberation Sans','Noto Sans CJK SC',sans-serif">自动交易</text>
<g shape-rendering="crispEdges">
<rect x="0" y="41" width="217" height="65" fill="#fff"/>
<clipPath id="cpp"><path d="M0,42 H47.5 V66.3 H104.7 V105.6 H0 z M163.4,42 H214.8 V105.6 H107.1 V66.3 H163.4 z"/></clipPath>
<rect x="0" y="42" width="215" height="64" fill="url(#gb)" clip-path="url(#cpp)"/>
<rect x="0" y="66" width="44" height="1" fill="#7c7cec"/>
<rect x="167" y="66" width="44" height="1" fill="#7c7cec"/>
<rect x="50.5" y="42.5" width="110" height="21" fill="#fff" stroke="#a9a9a9" stroke-width="1"/>
<rect x="51.5" y="43.5" width="19" height="19" fill="url(#gg)" stroke="#c8c8c8" stroke-width="1"/>
<rect x="140.5" y="43.5" width="19" height="19" fill="url(#gg)" stroke="#c8c8c8" stroke-width="1"/>
</g>
<polygon points="58.2,51.2 63,51.2 60.6,53.8" fill="#5868b8"/><polygon points="147.2,53.8 152,53.8 149.6,51.2" fill="#5868b8"/>
<text x="135.6" y="57" font-size="11.6" fill="#000" text-anchor="end">1.00</text>
<text x="8.3" y="57.3" font-size="11.3" fill="#fff" textLength="25.6" lengthAdjust="spacingAndGlyphs">SELL</text>
<text x="176.4" y="57.3" font-size="11.3" fill="#fff" textLength="23.2" lengthAdjust="spacingAndGlyphs">BUY</text>
<text x="12.6" y="96.6" font-size="12.2" font-weight="bold" fill="#fff" textLength="34" lengthAdjust="spacingAndGlyphs">31542</text>
<text x="122.4" y="96.6" font-size="12.2" font-weight="bold" fill="#fff" textLength="34.2" lengthAdjust="spacingAndGlyphs">31552</text>
<rect x="51.7" y="92.8" width="4.2" height="4.2" fill="#fff" rx="0.8"/>
<rect x="162.4" y="92.8" width="4.2" height="4.2" fill="#fff" rx="0.8"/>
<text transform="translate(58.2,97.2) scale(0.8,1)" font-size="35.5" fill="#fff">5</text>
<text transform="translate(169.3,97.2) scale(0.8,1)" font-size="35.5" fill="#fff">5</text>
</svg>
</body></html>
